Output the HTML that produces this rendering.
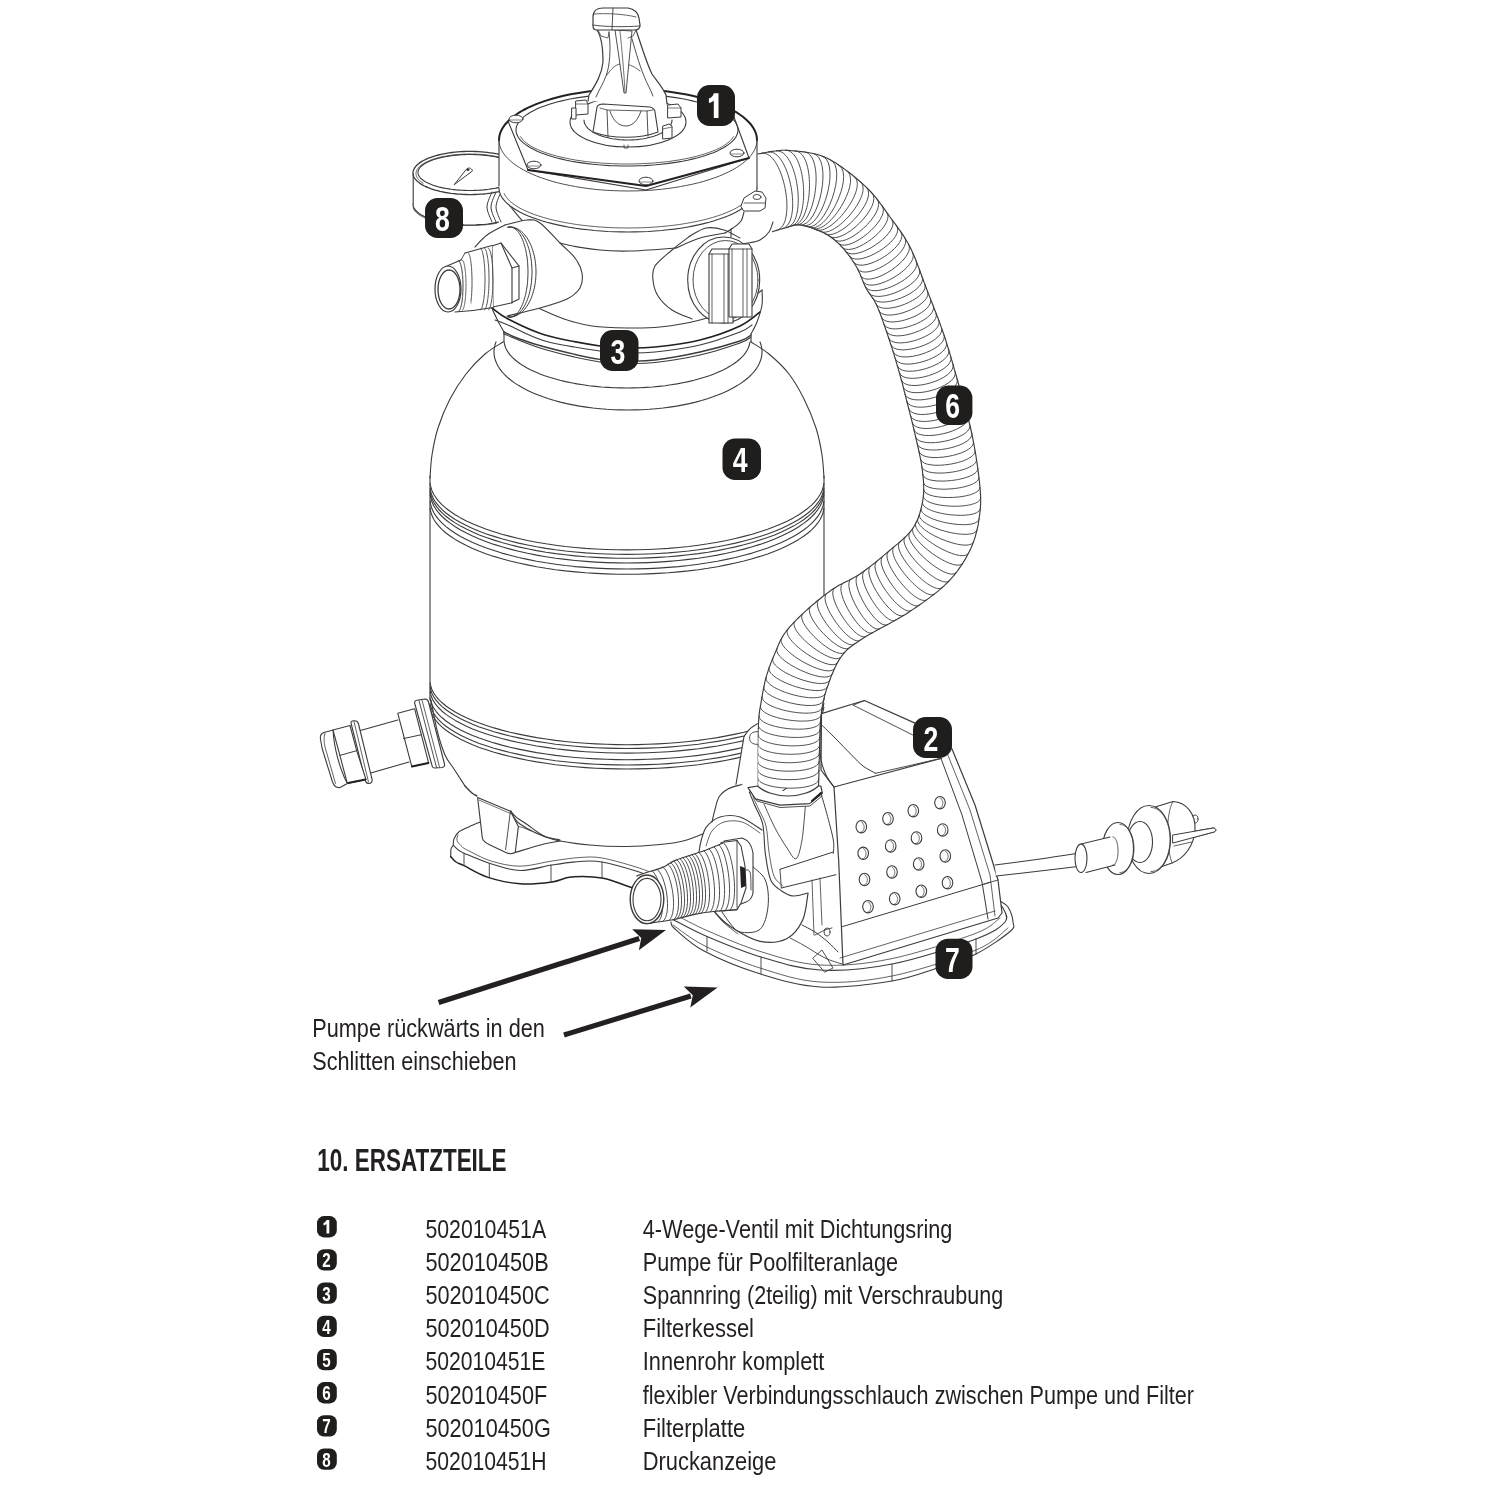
<!DOCTYPE html>
<html><head><meta charset="utf-8"><style>
html,body{margin:0;padding:0;background:#fff;}
svg{display:block;}
text{font-family:"Liberation Sans",sans-serif;fill:#231f20;}
.t{opacity:0.995;}
</style></head><body>
<svg width="1500" height="1500" viewBox="0 0 1500 1500" stroke-linejoin="round" stroke-linecap="round">
<rect width="1500" height="1500" fill="#fff"/>
<g class="t">
<path d="M451.0,845.0 L455.0,835.0 L462.0,829.0 L479.0,823.0 L700.0,840.0 L700.0,900.0 L660.0,897.0 L630.0,887.0 L602.0,878.0 L571.0,877.0 L552.0,882.0 L520.0,883.8 L488.0,877.4 L464.0,865.7 L456.0,862.0 L450.7,856.6 Z" fill="#fff" stroke="none"/>
<path d="M480.5,821.9 C478.6,822.7 472.9,825.0 469.3,826.7 C465.7,828.4 461.3,830.0 458.7,832.0 C456.1,834.0 454.8,836.8 453.9,839.0 C453.0,841.2 453.4,844.3 453.3,845.4" fill="none" stroke="#3d3a38" stroke-width="1.1" />
<path d="M453.3,845.4 C452.9,846.0 451.4,847.1 451.0,849.0 C450.6,850.9 450.8,855.3 450.7,856.6" fill="none" stroke="#3d3a38" stroke-width="1.1" />
<path d="M453.9,845.9 C454.7,846.6 456.9,849.0 458.7,850.2 C460.5,851.5 459.3,851.2 464.5,853.4 C469.7,855.6 480.9,860.6 490.1,863.5 C499.4,866.4 509.7,870.2 520.0,870.5 C530.3,870.8 542.0,866.5 552.0,865.0 C562.0,863.5 571.7,862.0 580.0,861.5 C588.3,861.0 592.7,860.4 602.0,862.0 C611.3,863.6 626.3,868.0 636.0,871.0 C645.7,874.0 656.0,878.5 660.0,880.0" fill="none" stroke="#3d3a38" stroke-width="1.1" />
<path d="M450.7,856.6 C451.6,857.5 453.8,860.5 456.0,862.0 C458.2,863.5 458.7,863.1 464.0,865.7 C469.3,868.3 478.7,874.4 488.0,877.4 C497.3,880.4 509.3,883.0 520.0,883.8 C530.7,884.6 543.5,883.1 552.0,882.0 C560.5,880.9 562.7,877.7 571.0,877.0 C579.3,876.3 592.2,876.3 602.0,878.0 C611.8,879.7 620.3,883.8 630.0,887.0 C639.7,890.2 655.0,895.3 660.0,897.0" fill="none" stroke="#231f20" stroke-width="1.5" />
<path d="M458.0,834.7 C457.8,835.7 456.3,838.6 457.0,840.6 C457.7,842.6 460.8,845.5 462.4,847.0 C464.0,848.5 462.0,847.4 466.7,849.7 C471.4,852.0 481.8,858.1 490.7,860.9 C499.6,863.6 509.8,866.2 520.0,866.2 C530.2,866.2 542.0,862.5 552.0,861.0 C562.0,859.5 571.7,858.0 580.0,857.5 C588.3,857.0 592.7,856.4 602.0,858.0 C611.3,859.6 626.3,864.0 636.0,867.0 C645.7,870.0 656.0,874.5 660.0,876.0" fill="none" stroke="#3d3a38" stroke-width="0.8" />
<path d="M464,853.4 L464,865.5" fill="none" stroke="#3d3a38" stroke-width="0.9" />
<path d="M489.3,863.5 L489.3,877" fill="none" stroke="#3d3a38" stroke-width="0.9" />
<path d="M551,865 L551,882" fill="none" stroke="#3d3a38" stroke-width="0.9" />
<path d="M602,862 L602,878" fill="none" stroke="#3d3a38" stroke-width="0.9" />
<path d="M671.0,922.0 C671.7,923.2 669.5,924.2 675.0,929.0 C680.5,933.8 690.0,943.6 704.0,951.0 C718.0,958.4 739.7,967.5 759.0,973.5 C778.3,979.5 797.8,985.8 820.0,987.0 C842.2,988.2 872.7,984.1 892.0,981.0 C911.3,977.9 922.0,973.0 936.0,968.5 C950.0,964.0 963.7,960.2 976.0,954.0 C988.3,947.8 1003.8,936.8 1010.0,931.5 C1016.2,926.2 1013.3,926.1 1013.0,922.0 C1012.7,917.9 1010.2,910.5 1008.0,907.0 C1005.8,903.5 1001.3,902.0 1000.0,901.0 L900,880 L700,880 Z" fill="#fff" stroke="none"/>
<path d="M672.0,919.0 C677.8,921.9 692.2,930.2 707.0,936.5 C721.8,942.8 742.2,951.4 761.0,957.0 C779.8,962.6 798.2,968.8 820.0,970.0 C841.8,971.2 866.0,969.2 892.0,964.0 C918.0,958.8 957.2,946.0 976.0,939.0 C994.8,932.0 1000.5,927.2 1005.0,922.0 C1009.5,916.8 1004.2,911.2 1003.0,908.0 C1001.8,904.8 998.8,903.8 998.0,903.0" fill="none" stroke="#3d3a38" stroke-width="1.1" />
<path d="M671.0,922.0 C671.7,923.2 669.5,924.2 675.0,929.0 C680.5,933.8 690.0,943.6 704.0,951.0 C718.0,958.4 739.7,967.5 759.0,973.5 C778.3,979.5 797.8,985.8 820.0,987.0 C842.2,988.2 872.7,984.1 892.0,981.0 C911.3,977.9 922.0,973.0 936.0,968.5 C950.0,964.0 963.7,960.2 976.0,954.0 C988.3,947.8 1003.8,936.8 1010.0,931.5 C1016.2,926.2 1013.3,926.1 1013.0,922.0 C1012.7,917.9 1010.2,910.5 1008.0,907.0 C1005.8,903.5 1001.3,902.0 1000.0,901.0" fill="none" stroke="#3d3a38" stroke-width="1.1" />
<path d="M673.0,925.0 C678.3,928.5 690.5,938.8 705.0,946.0 C719.5,953.2 740.8,962.0 760.0,968.0 C779.2,974.0 798.0,980.7 820.0,982.0 C842.0,983.3 866.0,981.3 892.0,976.0 C918.0,970.7 956.7,958.0 976.0,950.0 C995.3,942.0 1002.7,931.7 1008.0,928.0" fill="none" stroke="#3d3a38" stroke-width="0.8" />
<path d="M676.0,915.0 C681.3,917.7 693.7,924.8 708.0,931.0 C722.3,937.2 743.3,946.3 762.0,952.0 C780.7,957.7 798.7,963.8 820.0,965.0 C841.3,966.2 864.3,964.2 890.0,959.0 C915.7,953.8 955.7,940.8 974.0,934.0 C992.3,927.2 995.7,920.7 1000.0,918.0" fill="none" stroke="#3d3a38" stroke-width="0.8" />
<path d="M707,936.5 L707,951" fill="none" stroke="#3d3a38" stroke-width="0.9" />
<path d="M761,957 L761,973.5" fill="none" stroke="#3d3a38" stroke-width="0.9" />
<path d="M892,964 L892,981" fill="none" stroke="#3d3a38" stroke-width="0.9" />
<path d="M976,939 L976,954" fill="none" stroke="#3d3a38" stroke-width="0.9" />
<path d="M503.0,342.0 C500.0,344.0 491.2,348.7 485.0,354.0 C478.8,359.3 471.8,366.5 466.0,374.0 C460.2,381.5 454.7,390.0 450.0,399.0 C445.3,408.0 441.0,418.7 438.0,428.0 C435.0,437.3 433.3,446.7 432.0,455.0 C430.7,463.3 430.3,474.2 430.0,478.0 L430,700  L431.0,700.0 C432.0,705.0 434.7,720.8 437.0,730.0 C439.3,739.2 442.2,748.5 445.0,755.0 C447.8,761.5 450.7,763.8 454.0,769.0 C457.3,774.2 463.2,783.2 465.0,786.0  L465.0,786.0 C467.0,787.7 469.3,791.8 477.0,796.0 C484.7,800.2 503.8,806.3 511.0,811.0 C518.2,815.7 513.2,819.3 520.0,824.0 C526.8,828.7 540.3,835.5 552.0,839.0 C563.7,842.5 577.5,843.8 590.0,845.0 C602.5,846.2 615.3,846.6 627.0,846.5 C638.7,846.4 650.7,845.4 660.0,844.5 C669.3,843.6 675.5,842.9 683.0,841.0 C690.5,839.1 697.2,836.2 705.0,833.0 C712.8,829.8 720.8,826.2 730.0,822.0 C739.2,817.8 750.2,814.0 760.0,808.0 C769.8,802.0 784.2,789.7 789.0,786.0  L789.0,786.0 C790.8,783.2 796.7,774.2 800.0,769.0 C803.3,763.8 806.2,761.5 809.0,755.0 C811.8,748.5 814.7,739.2 817.0,730.0 C819.3,720.8 822.0,705.0 823.0,700.0 L824,478  L824.0,478.0 C823.7,474.2 823.3,463.3 822.0,455.0 C820.7,446.7 819.0,437.3 816.0,428.0 C813.0,418.7 808.5,408.0 804.0,399.0 C799.5,390.0 794.8,381.5 789.0,374.0 C783.2,366.5 775.3,359.3 769.0,354.0 C762.7,348.7 754.0,344.0 751.0,342.0 Z" fill="#fff" stroke="none"/>
<path d="M503.0,342.0 C500.0,344.0 491.2,348.7 485.0,354.0 C478.8,359.3 471.8,366.5 466.0,374.0 C460.2,381.5 454.7,390.0 450.0,399.0 C445.3,408.0 441.0,418.7 438.0,428.0 C435.0,437.3 433.3,446.7 432.0,455.0 C430.7,463.3 430.3,474.2 430.0,478.0" fill="none" stroke="#3d3a38" stroke-width="1.1" />
<path d="M751.0,342.0 C754.0,344.0 762.7,348.7 769.0,354.0 C775.3,359.3 783.2,366.5 789.0,374.0 C794.8,381.5 799.5,390.0 804.0,399.0 C808.5,408.0 813.0,418.7 816.0,428.0 C819.0,437.3 820.7,446.7 822.0,455.0 C823.3,463.3 823.7,474.2 824.0,478.0" fill="none" stroke="#3d3a38" stroke-width="1.1" />
<path d="M430,476 L430,700" fill="none" stroke="#3d3a38" stroke-width="1.1" />
<path d="M824,476 L824,700" fill="none" stroke="#3d3a38" stroke-width="1.1" />
<path d="M504,330 L504,341" fill="none" stroke="#3d3a38" stroke-width="1.1" />
<path d="M750,330 L750,341" fill="none" stroke="#3d3a38" stroke-width="1.1" />
<path d="M749.8,342.5 L749.3,345.0 L748.5,347.5 L747.3,350.0 L745.8,352.4 L744.0,354.8 L741.8,357.2 L739.4,359.5 L736.6,361.8 L733.5,364.0 L730.2,366.1 L726.5,368.2 L722.6,370.2 L718.4,372.1 L714.0,373.9 L709.3,375.7 L704.4,377.3 L699.3,378.8 L694.0,380.3 L688.5,381.6 L682.8,382.8 L677.0,383.9 L671.1,384.8 L665.0,385.7 L658.8,386.4 L652.6,387.0 L646.2,387.4 L639.9,387.7 L633.4,387.9 L627.0,388.0 L620.6,387.9 L614.1,387.7 L607.8,387.4 L601.4,387.0 L595.2,386.4 L589.0,385.7 L582.9,384.8 L577.0,383.9 L571.2,382.8 L565.5,381.6 L560.0,380.3 L554.7,378.8 L549.6,377.3 L544.7,375.7 L540.0,373.9 L535.6,372.1 L531.4,370.2 L527.5,368.2 L523.8,366.1 L520.5,364.0 L517.4,361.8 L514.6,359.5 L512.2,357.2 L510.0,354.8 L508.2,352.4 L506.7,350.0 L505.5,347.5 L504.7,345.0 L504.2,342.5" fill="none" stroke="#3d3a38" stroke-width="1.1" />
<path d="M760.0,341.9 L761.0,345.0 L761.7,348.0 L762.0,351.1 L761.9,354.1 L761.5,357.2 L760.6,360.3 L759.4,363.3 L757.9,366.3 L756.0,369.2 L753.7,372.1 L751.0,375.0 L748.1,377.8 L744.7,380.5 L741.1,383.1 L737.2,385.6 L732.9,388.1 L728.3,390.4 L723.5,392.7 L718.4,394.8 L713.0,396.8 L707.4,398.7 L701.6,400.5 L695.6,402.1 L689.4,403.6 L683.0,404.9 L676.5,406.1 L669.8,407.1 L663.0,408.0 L656.1,408.7 L649.2,409.3 L642.1,409.7 L635.1,409.9 L628.0,410.0 L620.9,409.9 L613.9,409.7 L606.8,409.3 L599.9,408.7 L593.0,408.0 L586.2,407.1 L579.5,406.1 L573.0,404.9 L566.6,403.6 L560.4,402.1 L554.4,400.5 L548.6,398.7 L543.0,396.8 L537.6,394.8 L532.5,392.7 L527.7,390.4 L523.1,388.1 L518.8,385.6 L514.9,383.1 L511.3,380.5 L507.9,377.8 L505.0,375.0 L502.3,372.1 L500.0,369.2 L498.1,366.3 L496.6,363.3 L495.4,360.3 L494.5,357.2 L494.1,354.1 L494.0,351.1 L494.3,348.0 L495.0,345.0 L496.0,341.9" fill="none" stroke="#3d3a38" stroke-width="1.1" />
<path d="M823.9,483.4 L823.2,487.0 L822.0,490.7 L820.3,494.3 L818.0,497.8 L815.2,501.3 L811.9,504.8 L808.0,508.2 L803.6,511.5 L798.8,514.7 L793.4,517.9 L787.6,520.9 L781.4,523.8 L774.7,526.6 L767.6,529.3 L760.0,531.8 L752.2,534.2 L743.9,536.4 L735.4,538.5 L726.5,540.5 L717.4,542.2 L708.0,543.8 L698.4,545.2 L688.6,546.5 L678.6,547.5 L668.4,548.4 L658.2,549.0 L647.8,549.5 L637.4,549.8 L627.0,549.9 L616.6,549.8 L606.2,549.5 L595.8,549.0 L585.6,548.4 L575.4,547.5 L565.4,546.5 L555.6,545.2 L546.0,543.8 L536.6,542.2 L527.5,540.5 L518.6,538.5 L510.1,536.4 L501.8,534.2 L494.0,531.8 L486.4,529.3 L479.3,526.6 L472.6,523.8 L466.4,520.9 L460.6,517.9 L455.2,514.7 L450.4,511.5 L446.0,508.2 L442.1,504.8 L438.8,501.3 L436.0,497.8 L433.7,494.3 L432.0,490.7 L430.8,487.0 L430.1,483.4" fill="none" stroke="#3d3a38" stroke-width="1.1" />
<path d="M823.9,488.4 L823.2,492.0 L822.0,495.6 L820.3,499.2 L818.0,502.7 L815.2,506.2 L811.9,509.6 L808.0,513.0 L803.6,516.3 L798.8,519.5 L793.4,522.6 L787.6,525.6 L781.4,528.5 L774.7,531.3 L767.6,533.9 L760.0,536.4 L752.2,538.8 L743.9,541.0 L735.4,543.1 L726.5,545.0 L717.4,546.8 L708.0,548.4 L698.4,549.8 L688.6,551.0 L678.6,552.0 L668.4,552.9 L658.2,553.5 L647.8,554.0 L637.4,554.3 L627.0,554.4 L616.6,554.3 L606.2,554.0 L595.8,553.5 L585.6,552.9 L575.4,552.0 L565.4,551.0 L555.6,549.8 L546.0,548.4 L536.6,546.8 L527.5,545.0 L518.6,543.1 L510.1,541.0 L501.8,538.8 L494.0,536.4 L486.4,533.9 L479.3,531.3 L472.6,528.5 L466.4,525.6 L460.6,522.6 L455.2,519.5 L450.4,516.3 L446.0,513.0 L442.1,509.6 L438.8,506.2 L436.0,502.7 L433.7,499.2 L432.0,495.6 L430.8,492.0 L430.1,488.4" fill="none" stroke="#3d3a38" stroke-width="1.1" />
<path d="M823.9,491.4 L823.2,495.1 L822.0,498.7 L820.3,502.3 L818.0,505.9 L815.2,509.5 L811.9,512.9 L808.0,516.3 L803.6,519.7 L798.8,522.9 L793.4,526.1 L787.6,529.1 L781.4,532.1 L774.7,534.9 L767.6,537.6 L760.0,540.1 L752.2,542.5 L743.9,544.8 L735.4,546.9 L726.5,548.8 L717.4,550.6 L708.0,552.2 L698.4,553.6 L688.6,554.8 L678.6,555.9 L668.4,556.8 L658.2,557.4 L647.8,557.9 L637.4,558.2 L627.0,558.3 L616.6,558.2 L606.2,557.9 L595.8,557.4 L585.6,556.8 L575.4,555.9 L565.4,554.8 L555.6,553.6 L546.0,552.2 L536.6,550.6 L527.5,548.8 L518.6,546.9 L510.1,544.8 L501.8,542.5 L494.0,540.1 L486.4,537.6 L479.3,534.9 L472.6,532.1 L466.4,529.1 L460.6,526.1 L455.2,522.9 L450.4,519.7 L446.0,516.3 L442.1,512.9 L438.8,509.5 L436.0,505.9 L433.7,502.3 L432.0,498.7 L430.8,495.1 L430.1,491.4" fill="none" stroke="#3d3a38" stroke-width="1.1" />
<path d="M823.9,494.5 L823.2,498.2 L822.0,502.0 L820.3,505.7 L818.0,509.3 L815.2,513.0 L811.9,516.5 L808.0,520.0 L803.6,523.4 L798.8,526.8 L793.4,530.0 L787.6,533.1 L781.4,536.1 L774.7,539.0 L767.6,541.7 L760.0,544.4 L752.2,546.8 L743.9,549.1 L735.4,551.3 L726.5,553.3 L717.4,555.1 L708.0,556.7 L698.4,558.2 L688.6,559.4 L678.6,560.5 L668.4,561.4 L658.2,562.1 L647.8,562.6 L637.4,562.9 L627.0,563.0 L616.6,562.9 L606.2,562.6 L595.8,562.1 L585.6,561.4 L575.4,560.5 L565.4,559.4 L555.6,558.2 L546.0,556.7 L536.6,555.1 L527.5,553.3 L518.6,551.3 L510.1,549.1 L501.8,546.8 L494.0,544.4 L486.4,541.7 L479.3,539.0 L472.6,536.1 L466.4,533.1 L460.6,530.0 L455.2,526.8 L450.4,523.4 L446.0,520.0 L442.1,516.5 L438.8,513.0 L436.0,509.3 L433.7,505.7 L432.0,502.0 L430.8,498.2 L430.1,494.5" fill="none" stroke="#3d3a38" stroke-width="1.1" />
<path d="M823.9,501.4 L823.2,505.1 L822.0,508.8 L820.3,512.5 L818.0,516.1 L815.2,519.7 L811.9,523.2 L808.0,526.6 L803.6,530.0 L798.8,533.3 L793.4,536.5 L787.6,539.5 L781.4,542.5 L774.7,545.3 L767.6,548.0 L760.0,550.6 L752.2,553.1 L743.9,555.3 L735.4,557.5 L726.5,559.4 L717.4,561.2 L708.0,562.8 L698.4,564.2 L688.6,565.5 L678.6,566.6 L668.4,567.4 L658.2,568.1 L647.8,568.6 L637.4,568.9 L627.0,569.0 L616.6,568.9 L606.2,568.6 L595.8,568.1 L585.6,567.4 L575.4,566.6 L565.4,565.5 L555.6,564.2 L546.0,562.8 L536.6,561.2 L527.5,559.4 L518.6,557.5 L510.1,555.3 L501.8,553.1 L494.0,550.6 L486.4,548.0 L479.3,545.3 L472.6,542.5 L466.4,539.5 L460.6,536.5 L455.2,533.3 L450.4,530.0 L446.0,526.6 L442.1,523.2 L438.8,519.7 L436.0,516.1 L433.7,512.5 L432.0,508.8 L430.8,505.1 L430.1,501.4" fill="none" stroke="#3d3a38" stroke-width="1.1" />
<path d="M823.9,508.4 L823.2,512.0 L822.0,515.6 L820.3,519.2 L818.0,522.7 L815.2,526.2 L811.9,529.6 L808.0,533.0 L803.6,536.2 L798.8,539.4 L793.4,542.5 L787.6,545.5 L781.4,548.4 L774.7,551.2 L767.6,553.9 L760.0,556.4 L752.2,558.7 L743.9,561.0 L735.4,563.0 L726.5,564.9 L717.4,566.7 L708.0,568.3 L698.4,569.7 L688.6,570.9 L678.6,571.9 L668.4,572.8 L658.2,573.4 L647.8,573.9 L637.4,574.2 L627.0,574.3 L616.6,574.2 L606.2,573.9 L595.8,573.4 L585.6,572.8 L575.4,571.9 L565.4,570.9 L555.6,569.7 L546.0,568.3 L536.6,566.7 L527.5,564.9 L518.6,563.0 L510.1,561.0 L501.8,558.7 L494.0,556.4 L486.4,553.9 L479.3,551.2 L472.6,548.4 L466.4,545.5 L460.6,542.5 L455.2,539.4 L450.4,536.2 L446.0,533.0 L442.1,529.6 L438.8,526.2 L436.0,522.7 L433.7,519.2 L432.0,515.6 L430.8,512.0 L430.1,508.4" fill="none" stroke="#3d3a38" stroke-width="1.1" />
<path d="M823.9,682.9 L823.2,686.3 L822.0,689.7 L820.3,693.0 L818.0,696.3 L815.2,699.6 L811.9,702.8 L808.0,706.0 L803.6,709.0 L798.8,712.0 L793.4,714.9 L787.6,717.8 L781.4,720.5 L774.7,723.1 L767.6,725.5 L760.0,727.9 L752.2,730.1 L743.9,732.2 L735.4,734.1 L726.5,735.9 L717.4,737.6 L708.0,739.0 L698.4,740.4 L688.6,741.5 L678.6,742.5 L668.4,743.3 L658.2,743.9 L647.8,744.3 L637.4,744.6 L627.0,744.7 L616.6,744.6 L606.2,744.3 L595.8,743.9 L585.6,743.3 L575.4,742.5 L565.4,741.5 L555.6,740.4 L546.0,739.0 L536.6,737.6 L527.5,735.9 L518.6,734.1 L510.1,732.2 L501.8,730.1 L494.0,727.9 L486.4,725.5 L479.3,723.1 L472.6,720.5 L466.4,717.8 L460.6,714.9 L455.2,712.0 L450.4,709.0 L446.0,706.0 L442.1,702.8 L438.8,699.6 L436.0,696.3 L433.7,693.0 L432.0,689.7 L430.8,686.3 L430.1,682.9" fill="none" stroke="#3d3a38" stroke-width="1.1" />
<path d="M823.9,686.7 L823.2,690.1 L822.0,693.5 L820.3,696.8 L818.0,700.1 L815.2,703.4 L811.9,706.6 L808.0,709.8 L803.6,712.8 L798.8,715.8 L793.4,718.7 L787.6,721.6 L781.4,724.3 L774.7,726.9 L767.6,729.3 L760.0,731.7 L752.2,733.9 L743.9,736.0 L735.4,737.9 L726.5,739.7 L717.4,741.4 L708.0,742.8 L698.4,744.2 L688.6,745.3 L678.6,746.3 L668.4,747.1 L658.2,747.7 L647.8,748.1 L637.4,748.4 L627.0,748.5 L616.6,748.4 L606.2,748.1 L595.8,747.7 L585.6,747.1 L575.4,746.3 L565.4,745.3 L555.6,744.2 L546.0,742.8 L536.6,741.4 L527.5,739.7 L518.6,737.9 L510.1,736.0 L501.8,733.9 L494.0,731.7 L486.4,729.3 L479.3,726.9 L472.6,724.3 L466.4,721.6 L460.6,718.7 L455.2,715.8 L450.4,712.8 L446.0,709.8 L442.1,706.6 L438.8,703.4 L436.0,700.1 L433.7,696.8 L432.0,693.5 L430.8,690.1 L430.1,686.7" fill="none" stroke="#3d3a38" stroke-width="1.1" />
<path d="M823.9,691.3 L823.2,694.7 L822.0,698.1 L820.3,701.4 L818.0,704.7 L815.2,708.0 L811.9,711.2 L808.0,714.4 L803.6,717.4 L798.8,720.4 L793.4,723.3 L787.6,726.2 L781.4,728.9 L774.7,731.5 L767.6,733.9 L760.0,736.3 L752.2,738.5 L743.9,740.6 L735.4,742.5 L726.5,744.3 L717.4,746.0 L708.0,747.4 L698.4,748.8 L688.6,749.9 L678.6,750.9 L668.4,751.7 L658.2,752.3 L647.8,752.7 L637.4,753.0 L627.0,753.1 L616.6,753.0 L606.2,752.7 L595.8,752.3 L585.6,751.7 L575.4,750.9 L565.4,749.9 L555.6,748.8 L546.0,747.4 L536.6,746.0 L527.5,744.3 L518.6,742.5 L510.1,740.6 L501.8,738.5 L494.0,736.3 L486.4,733.9 L479.3,731.5 L472.6,728.9 L466.4,726.2 L460.6,723.3 L455.2,720.4 L450.4,717.4 L446.0,714.4 L442.1,711.2 L438.8,708.0 L436.0,704.7 L433.7,701.4 L432.0,698.1 L430.8,694.7 L430.1,691.3" fill="none" stroke="#3d3a38" stroke-width="1.1" />
<path d="M823.9,697.9 L823.2,701.3 L822.0,704.7 L820.3,708.0 L818.0,711.3 L815.2,714.6 L811.9,717.8 L808.0,721.0 L803.6,724.0 L798.8,727.0 L793.4,729.9 L787.6,732.8 L781.4,735.5 L774.7,738.1 L767.6,740.5 L760.0,742.9 L752.2,745.1 L743.9,747.2 L735.4,749.1 L726.5,750.9 L717.4,752.6 L708.0,754.0 L698.4,755.4 L688.6,756.5 L678.6,757.5 L668.4,758.3 L658.2,758.9 L647.8,759.3 L637.4,759.6 L627.0,759.7 L616.6,759.6 L606.2,759.3 L595.8,758.9 L585.6,758.3 L575.4,757.5 L565.4,756.5 L555.6,755.4 L546.0,754.0 L536.6,752.6 L527.5,750.9 L518.6,749.1 L510.1,747.2 L501.8,745.1 L494.0,742.9 L486.4,740.5 L479.3,738.1 L472.6,735.5 L466.4,732.8 L460.6,729.9 L455.2,727.0 L450.4,724.0 L446.0,721.0 L442.1,717.8 L438.8,714.6 L436.0,711.3 L433.7,708.0 L432.0,704.7 L430.8,701.3 L430.1,697.9" fill="none" stroke="#3d3a38" stroke-width="1.1" />
<path d="M823.9,703.2 L823.2,706.6 L822.0,710.0 L820.3,713.3 L818.0,716.6 L815.2,719.9 L811.9,723.1 L808.0,726.3 L803.6,729.3 L798.8,732.3 L793.4,735.2 L787.6,738.1 L781.4,740.8 L774.7,743.4 L767.6,745.8 L760.0,748.2 L752.2,750.4 L743.9,752.5 L735.4,754.4 L726.5,756.2 L717.4,757.9 L708.0,759.3 L698.4,760.7 L688.6,761.8 L678.6,762.8 L668.4,763.6 L658.2,764.2 L647.8,764.6 L637.4,764.9 L627.0,765.0 L616.6,764.9 L606.2,764.6 L595.8,764.2 L585.6,763.6 L575.4,762.8 L565.4,761.8 L555.6,760.7 L546.0,759.3 L536.6,757.9 L527.5,756.2 L518.6,754.4 L510.1,752.5 L501.8,750.4 L494.0,748.2 L486.4,745.8 L479.3,743.4 L472.6,740.8 L466.4,738.1 L460.6,735.2 L455.2,732.3 L450.4,729.3 L446.0,726.3 L442.1,723.1 L438.8,719.9 L436.0,716.6 L433.7,713.3 L432.0,710.0 L430.8,706.6 L430.1,703.2" fill="none" stroke="#3d3a38" stroke-width="1.1" />
<path d="M823.9,707.2 L823.2,710.6 L822.0,714.0 L820.3,717.3 L818.0,720.6 L815.2,723.9 L811.9,727.1 L808.0,730.3 L803.6,733.3 L798.8,736.3 L793.4,739.2 L787.6,742.1 L781.4,744.8 L774.7,747.4 L767.6,749.8 L760.0,752.2 L752.2,754.4 L743.9,756.5 L735.4,758.4 L726.5,760.2 L717.4,761.9 L708.0,763.3 L698.4,764.7 L688.6,765.8 L678.6,766.8 L668.4,767.6 L658.2,768.2 L647.8,768.6 L637.4,768.9 L627.0,769.0 L616.6,768.9 L606.2,768.6 L595.8,768.2 L585.6,767.6 L575.4,766.8 L565.4,765.8 L555.6,764.7 L546.0,763.3 L536.6,761.9 L527.5,760.2 L518.6,758.4 L510.1,756.5 L501.8,754.4 L494.0,752.2 L486.4,749.8 L479.3,747.4 L472.6,744.8 L466.4,742.1 L460.6,739.2 L455.2,736.3 L450.4,733.3 L446.0,730.3 L442.1,727.1 L438.8,723.9 L436.0,720.6 L433.7,717.3 L432.0,714.0 L430.8,710.6 L430.1,707.2" fill="none" stroke="#3d3a38" stroke-width="1.1" />
<path d="M431.0,700.0 C432.0,705.0 434.7,720.8 437.0,730.0 C439.3,739.2 442.2,748.5 445.0,755.0 C447.8,761.5 450.7,763.8 454.0,769.0 C457.3,774.2 463.2,783.2 465.0,786.0" fill="none" stroke="#3d3a38" stroke-width="1.1" />
<path d="M823.0,700.0 C822.0,705.0 819.3,720.8 817.0,730.0 C814.7,739.2 811.8,748.5 809.0,755.0 C806.2,761.5 803.3,763.8 800.0,769.0 C796.7,774.2 790.8,783.2 789.0,786.0" fill="none" stroke="#3d3a38" stroke-width="1.1" />
<path d="M511.0,811.0 C512.5,813.2 513.2,819.3 520.0,824.0 C526.8,828.7 540.3,835.5 552.0,839.0 C563.7,842.5 577.5,843.8 590.0,845.0 C602.5,846.2 615.3,846.6 627.0,846.5 C638.7,846.4 650.7,845.4 660.0,844.5 C669.3,843.6 675.5,842.9 683.0,841.0 C690.5,839.1 697.2,836.2 705.0,833.0 C712.8,829.8 720.8,826.2 730.0,822.0 C739.2,817.8 750.2,814.0 760.0,808.0 C769.8,802.0 784.2,789.7 789.0,786.0" fill="none" stroke="#3d3a38" stroke-width="1.1" />
<path d="M477.6,797.6 L482.4,838.4 C483.5,842 486,843 490,845 L506.4,852.8 C509,854 512,854 515.2,852.5 L518.4,826.4 L510.4,811.2 Z" fill="#fff" stroke="#3d3a38" stroke-width="1.1"/>
<path d="M510.4,811.2 L505.6,849.6" fill="none" stroke="#3d3a38" stroke-width="0.9" />
<path d="M479,800 L510.4,813.5" fill="none" stroke="#3d3a38" stroke-width="0.7" />
<path d="M510.4,811.2 C511.5,812.3 514.1,815.5 516.8,817.6 C519.5,819.7 521.9,820.9 526.4,824.0 C530.9,827.1 538.4,833.3 544.0,836.0 C549.6,838.7 557.3,839.3 560.0,840.0" fill="none" stroke="#3d3a38" stroke-width="1.1" />
<path d="M518.4,826.4 C519.3,826.7 521.9,827.2 524.0,828.0 C526.1,828.8 529.8,830.5 531.0,831.0" fill="none" stroke="#3d3a38" stroke-width="0.8" />
<path d="M515.0,852.5 C519.8,851.1 536.5,845.9 544.0,844.0 C551.5,842.1 557.3,841.5 560.0,841.0" fill="none" stroke="#3d3a38" stroke-width="1.1" />
<path d="M465.0,786.0 C466.2,787.2 470.0,791.3 472.0,793.0 C474.0,794.7 476.2,795.5 477.0,796.0" fill="none" stroke="#3d3a38" stroke-width="1.4" />
<path d="M821.5,713.6 L864.4,700.5 L916.7,723.9 L952.0,749.0 L975.0,805.0 L992.0,860.0 L998.0,880.0 L1002.0,913.0 L998.0,918.0 L843.0,965.0 L838.7,861.0 L834.0,787.0 L821.0,770.0 Z" fill="#fff" stroke="#3d3a38" stroke-width="1.2"/>
<path d="M834,787 L941,758.4" fill="none" stroke="#3d3a38" stroke-width="1.1" />
<path d="M941,758.4 L962,815 L982,882 L988,919" fill="none" stroke="#3d3a38" stroke-width="1.0" />
<path d="M947,753 L970,810 L990,875 L995,916" fill="none" stroke="#3d3a38" stroke-width="0.8" />
<path d="M984,884 L998,880" fill="none" stroke="#3d3a38" stroke-width="0.9" />
<path d="M821.5,724.8 C823.8,727.0 830.0,733.0 835.0,738.0 C840.0,743.0 846.6,750.0 851.3,754.7 C856.0,759.4 859.0,762.9 863.0,766.0 C867.0,769.1 873.5,772.1 875.6,773.3" fill="none" stroke="#3d3a38" stroke-width="1.0" />
<path d="M875.6,773.3 L941,758.4" fill="none" stroke="#3d3a38" stroke-width="0.9" />
<path d="M853.2,705.2 L914.8,736" fill="none" stroke="#3d3a38" stroke-width="0.9" />
<path d="M864.4,700.5 L853.2,705.2" fill="none" stroke="#3d3a38" stroke-width="0.9" />
<path d="M842.5,926.6 L990.5,882.2" fill="none" stroke="#3d3a38" stroke-width="1.0" />
<path d="M840,958 L995,911" fill="none" stroke="#3d3a38" stroke-width="0.8" />
<path d="M821.0,715.0 C820.8,719.2 820.0,732.5 820.0,740.0 C820.0,747.5 819.8,753.8 821.0,760.0 C822.2,766.2 824.8,772.5 827.0,777.0 C829.2,781.5 832.8,785.3 834.0,787.0" fill="none" stroke="#3d3a38" stroke-width="1.1" />
<ellipse cx="861.3" cy="826.7" rx="5.3" ry="6.2" fill="#fff" stroke="#3d3a38" stroke-width="1.1"/>
<path d="M861.5,822.0 L861.7,822.1 L861.9,822.2 L862.0,822.4 L862.2,822.5 L862.4,822.7 L862.6,822.8 L862.7,823.0 L862.9,823.2 L863.0,823.4 L863.2,823.6 L863.3,823.8 L863.4,824.1 L863.5,824.3 L863.6,824.6 L863.7,824.8 L863.8,825.1 L863.9,825.3 L864.0,825.6 L864.0,825.9 L864.0,826.2 L864.1,826.4 L864.1,826.7 L864.1,827.0 L864.1,827.3 L864.1,827.6 L864.1,827.8 L864.0,828.1 L864.0,828.4 L863.9,828.6 L863.8,828.9 L863.7,829.2 L863.7,829.4 L863.6,829.7 L863.4,829.9 L863.3,830.1 L863.2,830.4 L863.1,830.6 L862.9,830.8 L862.7,831.0 L862.6,831.2 L862.4,831.3 L862.2,831.5 L862.1,831.6 L861.9,831.8 L861.7,831.9 L861.5,832.0 L861.3,832.1 L861.1,832.1 L860.9,832.2 L860.7,832.2 L860.4,832.3" fill="none" stroke="#3d3a38" stroke-width="0.8" />
<ellipse cx="888" cy="818.7" rx="5.3" ry="6.2" fill="#fff" stroke="#3d3a38" stroke-width="1.1"/>
<path d="M888.2,814.0 L888.4,814.1 L888.6,814.2 L888.7,814.4 L888.9,814.5 L889.1,814.7 L889.3,814.8 L889.4,815.0 L889.6,815.2 L889.7,815.4 L889.9,815.6 L890.0,815.8 L890.1,816.1 L890.2,816.3 L890.3,816.6 L890.4,816.8 L890.5,817.1 L890.6,817.3 L890.7,817.6 L890.7,817.9 L890.7,818.2 L890.8,818.4 L890.8,818.7 L890.8,819.0 L890.8,819.3 L890.8,819.6 L890.8,819.8 L890.7,820.1 L890.7,820.4 L890.6,820.6 L890.5,820.9 L890.4,821.2 L890.4,821.4 L890.3,821.7 L890.1,821.9 L890.0,822.1 L889.9,822.4 L889.8,822.6 L889.6,822.8 L889.4,823.0 L889.3,823.2 L889.1,823.3 L888.9,823.5 L888.8,823.6 L888.6,823.8 L888.4,823.9 L888.2,824.0 L888.0,824.1 L887.8,824.1 L887.6,824.2 L887.4,824.2 L887.1,824.3" fill="none" stroke="#3d3a38" stroke-width="0.8" />
<ellipse cx="913.3" cy="810.7" rx="5.3" ry="6.2" fill="#fff" stroke="#3d3a38" stroke-width="1.1"/>
<path d="M913.5,806.0 L913.7,806.1 L913.9,806.2 L914.0,806.4 L914.2,806.5 L914.4,806.7 L914.6,806.8 L914.7,807.0 L914.9,807.2 L915.0,807.4 L915.2,807.6 L915.3,807.8 L915.4,808.1 L915.5,808.3 L915.6,808.6 L915.7,808.8 L915.8,809.1 L915.9,809.3 L916.0,809.6 L916.0,809.9 L916.0,810.2 L916.1,810.4 L916.1,810.7 L916.1,811.0 L916.1,811.3 L916.1,811.6 L916.1,811.8 L916.0,812.1 L916.0,812.4 L915.9,812.6 L915.8,812.9 L915.7,813.2 L915.7,813.4 L915.6,813.7 L915.4,813.9 L915.3,814.1 L915.2,814.4 L915.1,814.6 L914.9,814.8 L914.7,815.0 L914.6,815.2 L914.4,815.3 L914.2,815.5 L914.1,815.6 L913.9,815.8 L913.7,815.9 L913.5,816.0 L913.3,816.1 L913.1,816.1 L912.9,816.2 L912.7,816.2 L912.4,816.3" fill="none" stroke="#3d3a38" stroke-width="0.8" />
<ellipse cx="940" cy="802.7" rx="5.3" ry="6.2" fill="#fff" stroke="#3d3a38" stroke-width="1.1"/>
<path d="M940.2,798.0 L940.4,798.1 L940.6,798.2 L940.7,798.4 L940.9,798.5 L941.1,798.7 L941.3,798.8 L941.4,799.0 L941.6,799.2 L941.7,799.4 L941.9,799.6 L942.0,799.8 L942.1,800.1 L942.2,800.3 L942.3,800.6 L942.4,800.8 L942.5,801.1 L942.6,801.3 L942.7,801.6 L942.7,801.9 L942.7,802.2 L942.8,802.4 L942.8,802.7 L942.8,803.0 L942.8,803.3 L942.8,803.6 L942.8,803.8 L942.7,804.1 L942.7,804.4 L942.6,804.6 L942.5,804.9 L942.4,805.2 L942.4,805.4 L942.3,805.7 L942.1,805.9 L942.0,806.1 L941.9,806.4 L941.8,806.6 L941.6,806.8 L941.4,807.0 L941.3,807.2 L941.1,807.3 L940.9,807.5 L940.8,807.6 L940.6,807.8 L940.4,807.9 L940.2,808.0 L940.0,808.1 L939.8,808.1 L939.6,808.2 L939.4,808.2 L939.1,808.3" fill="none" stroke="#3d3a38" stroke-width="0.8" />
<ellipse cx="863.2" cy="853.3" rx="5.3" ry="6.2" fill="#fff" stroke="#3d3a38" stroke-width="1.1"/>
<path d="M863.4,848.6 L863.6,848.7 L863.8,848.8 L863.9,849.0 L864.1,849.1 L864.3,849.3 L864.5,849.4 L864.6,849.6 L864.8,849.8 L864.9,850.0 L865.1,850.2 L865.2,850.4 L865.3,850.7 L865.4,850.9 L865.5,851.2 L865.6,851.4 L865.7,851.7 L865.8,851.9 L865.9,852.2 L865.9,852.5 L865.9,852.8 L866.0,853.0 L866.0,853.3 L866.0,853.6 L866.0,853.9 L866.0,854.2 L866.0,854.4 L865.9,854.7 L865.9,855.0 L865.8,855.2 L865.7,855.5 L865.6,855.8 L865.6,856.0 L865.5,856.3 L865.3,856.5 L865.2,856.7 L865.1,857.0 L865.0,857.2 L864.8,857.4 L864.6,857.6 L864.5,857.8 L864.3,857.9 L864.1,858.1 L864.0,858.2 L863.8,858.4 L863.6,858.5 L863.4,858.6 L863.2,858.7 L863.0,858.7 L862.8,858.8 L862.6,858.8 L862.3,858.9" fill="none" stroke="#3d3a38" stroke-width="0.8" />
<ellipse cx="890.7" cy="845.9" rx="5.3" ry="6.2" fill="#fff" stroke="#3d3a38" stroke-width="1.1"/>
<path d="M890.9,841.2 L891.1,841.3 L891.3,841.4 L891.4,841.6 L891.6,841.7 L891.8,841.9 L892.0,842.0 L892.1,842.2 L892.3,842.4 L892.4,842.6 L892.6,842.8 L892.7,843.0 L892.8,843.3 L892.9,843.5 L893.0,843.8 L893.1,844.0 L893.2,844.3 L893.3,844.5 L893.4,844.8 L893.4,845.1 L893.4,845.4 L893.5,845.6 L893.5,845.9 L893.5,846.2 L893.5,846.5 L893.5,846.8 L893.5,847.0 L893.4,847.3 L893.4,847.6 L893.3,847.8 L893.2,848.1 L893.1,848.4 L893.1,848.6 L893.0,848.9 L892.8,849.1 L892.7,849.3 L892.6,849.6 L892.5,849.8 L892.3,850.0 L892.1,850.2 L892.0,850.4 L891.8,850.5 L891.6,850.7 L891.5,850.8 L891.3,851.0 L891.1,851.1 L890.9,851.2 L890.7,851.3 L890.5,851.3 L890.3,851.4 L890.1,851.4 L889.8,851.5" fill="none" stroke="#3d3a38" stroke-width="0.8" />
<ellipse cx="916.5" cy="837.9" rx="5.3" ry="6.2" fill="#fff" stroke="#3d3a38" stroke-width="1.1"/>
<path d="M916.7,833.2 L916.9,833.3 L917.1,833.4 L917.2,833.6 L917.4,833.7 L917.6,833.9 L917.8,834.0 L917.9,834.2 L918.1,834.4 L918.2,834.6 L918.4,834.8 L918.5,835.0 L918.6,835.3 L918.7,835.5 L918.8,835.8 L918.9,836.0 L919.0,836.3 L919.1,836.5 L919.2,836.8 L919.2,837.1 L919.2,837.4 L919.3,837.6 L919.3,837.9 L919.3,838.2 L919.3,838.5 L919.3,838.8 L919.3,839.0 L919.2,839.3 L919.2,839.6 L919.1,839.8 L919.0,840.1 L918.9,840.4 L918.9,840.6 L918.8,840.9 L918.6,841.1 L918.5,841.3 L918.4,841.6 L918.3,841.8 L918.1,842.0 L917.9,842.2 L917.8,842.4 L917.6,842.5 L917.4,842.7 L917.3,842.8 L917.1,843.0 L916.9,843.1 L916.7,843.2 L916.5,843.3 L916.3,843.3 L916.1,843.4 L915.9,843.4 L915.6,843.5" fill="none" stroke="#3d3a38" stroke-width="0.8" />
<ellipse cx="942.7" cy="829.9" rx="5.3" ry="6.2" fill="#fff" stroke="#3d3a38" stroke-width="1.1"/>
<path d="M942.9,825.2 L943.1,825.3 L943.3,825.4 L943.4,825.6 L943.6,825.7 L943.8,825.9 L944.0,826.0 L944.1,826.2 L944.3,826.4 L944.4,826.6 L944.6,826.8 L944.7,827.0 L944.8,827.3 L944.9,827.5 L945.0,827.8 L945.1,828.0 L945.2,828.3 L945.3,828.5 L945.4,828.8 L945.4,829.1 L945.4,829.4 L945.5,829.6 L945.5,829.9 L945.5,830.2 L945.5,830.5 L945.5,830.8 L945.5,831.0 L945.4,831.3 L945.4,831.6 L945.3,831.8 L945.2,832.1 L945.1,832.4 L945.1,832.6 L945.0,832.9 L944.8,833.1 L944.7,833.3 L944.6,833.6 L944.5,833.8 L944.3,834.0 L944.1,834.2 L944.0,834.4 L943.8,834.5 L943.6,834.7 L943.5,834.8 L943.3,835.0 L943.1,835.1 L942.9,835.2 L942.7,835.3 L942.5,835.3 L942.3,835.4 L942.1,835.4 L941.8,835.5" fill="none" stroke="#3d3a38" stroke-width="0.8" />
<ellipse cx="864.5" cy="879.5" rx="5.3" ry="6.2" fill="#fff" stroke="#3d3a38" stroke-width="1.1"/>
<path d="M864.7,874.8 L864.9,874.9 L865.1,875.0 L865.2,875.2 L865.4,875.3 L865.6,875.5 L865.8,875.6 L865.9,875.8 L866.1,876.0 L866.2,876.2 L866.4,876.4 L866.5,876.6 L866.6,876.9 L866.7,877.1 L866.8,877.4 L866.9,877.6 L867.0,877.9 L867.1,878.1 L867.2,878.4 L867.2,878.7 L867.2,879.0 L867.3,879.2 L867.3,879.5 L867.3,879.8 L867.3,880.1 L867.3,880.4 L867.3,880.6 L867.2,880.9 L867.2,881.2 L867.1,881.4 L867.0,881.7 L866.9,882.0 L866.9,882.2 L866.8,882.5 L866.6,882.7 L866.5,882.9 L866.4,883.2 L866.3,883.4 L866.1,883.6 L865.9,883.8 L865.8,884.0 L865.6,884.1 L865.4,884.3 L865.3,884.4 L865.1,884.6 L864.9,884.7 L864.7,884.8 L864.5,884.9 L864.3,884.9 L864.1,885.0 L863.9,885.0 L863.6,885.1" fill="none" stroke="#3d3a38" stroke-width="0.8" />
<ellipse cx="892" cy="872" rx="5.3" ry="6.2" fill="#fff" stroke="#3d3a38" stroke-width="1.1"/>
<path d="M892.2,867.3 L892.4,867.4 L892.6,867.5 L892.7,867.7 L892.9,867.8 L893.1,868.0 L893.3,868.1 L893.4,868.3 L893.6,868.5 L893.7,868.7 L893.9,868.9 L894.0,869.1 L894.1,869.4 L894.2,869.6 L894.3,869.9 L894.4,870.1 L894.5,870.4 L894.6,870.6 L894.7,870.9 L894.7,871.2 L894.7,871.5 L894.8,871.7 L894.8,872.0 L894.8,872.3 L894.8,872.6 L894.8,872.9 L894.8,873.1 L894.7,873.4 L894.7,873.7 L894.6,873.9 L894.5,874.2 L894.4,874.5 L894.4,874.7 L894.3,875.0 L894.1,875.2 L894.0,875.4 L893.9,875.7 L893.8,875.9 L893.6,876.1 L893.4,876.3 L893.3,876.5 L893.1,876.6 L892.9,876.8 L892.8,876.9 L892.6,877.1 L892.4,877.2 L892.2,877.3 L892.0,877.4 L891.8,877.4 L891.6,877.5 L891.4,877.5 L891.1,877.6" fill="none" stroke="#3d3a38" stroke-width="0.8" />
<ellipse cx="918.7" cy="864" rx="5.3" ry="6.2" fill="#fff" stroke="#3d3a38" stroke-width="1.1"/>
<path d="M918.9,859.3 L919.1,859.4 L919.3,859.5 L919.4,859.7 L919.6,859.8 L919.8,860.0 L920.0,860.1 L920.1,860.3 L920.3,860.5 L920.4,860.7 L920.6,860.9 L920.7,861.1 L920.8,861.4 L920.9,861.6 L921.0,861.9 L921.1,862.1 L921.2,862.4 L921.3,862.6 L921.4,862.9 L921.4,863.2 L921.4,863.5 L921.5,863.7 L921.5,864.0 L921.5,864.3 L921.5,864.6 L921.5,864.9 L921.5,865.1 L921.4,865.4 L921.4,865.7 L921.3,865.9 L921.2,866.2 L921.1,866.5 L921.1,866.7 L921.0,867.0 L920.8,867.2 L920.7,867.4 L920.6,867.7 L920.5,867.9 L920.3,868.1 L920.1,868.3 L920.0,868.5 L919.8,868.6 L919.6,868.8 L919.5,868.9 L919.3,869.1 L919.1,869.2 L918.9,869.3 L918.7,869.4 L918.5,869.4 L918.3,869.5 L918.1,869.5 L917.8,869.6" fill="none" stroke="#3d3a38" stroke-width="0.8" />
<ellipse cx="945.3" cy="856" rx="5.3" ry="6.2" fill="#fff" stroke="#3d3a38" stroke-width="1.1"/>
<path d="M945.5,851.3 L945.7,851.4 L945.9,851.5 L946.0,851.7 L946.2,851.8 L946.4,852.0 L946.6,852.1 L946.7,852.3 L946.9,852.5 L947.0,852.7 L947.2,852.9 L947.3,853.1 L947.4,853.4 L947.5,853.6 L947.6,853.9 L947.7,854.1 L947.8,854.4 L947.9,854.6 L948.0,854.9 L948.0,855.2 L948.0,855.5 L948.1,855.7 L948.1,856.0 L948.1,856.3 L948.1,856.6 L948.1,856.9 L948.1,857.1 L948.0,857.4 L948.0,857.7 L947.9,857.9 L947.8,858.2 L947.7,858.5 L947.7,858.7 L947.6,859.0 L947.4,859.2 L947.3,859.4 L947.2,859.7 L947.1,859.9 L946.9,860.1 L946.7,860.3 L946.6,860.5 L946.4,860.6 L946.2,860.8 L946.1,860.9 L945.9,861.1 L945.7,861.2 L945.5,861.3 L945.3,861.4 L945.1,861.4 L944.9,861.5 L944.7,861.5 L944.4,861.6" fill="none" stroke="#3d3a38" stroke-width="0.8" />
<ellipse cx="868" cy="906.7" rx="5.3" ry="6.2" fill="#fff" stroke="#3d3a38" stroke-width="1.1"/>
<path d="M868.2,902.0 L868.4,902.1 L868.6,902.2 L868.7,902.4 L868.9,902.5 L869.1,902.7 L869.3,902.8 L869.4,903.0 L869.6,903.2 L869.7,903.4 L869.9,903.6 L870.0,903.8 L870.1,904.1 L870.2,904.3 L870.3,904.6 L870.4,904.8 L870.5,905.1 L870.6,905.3 L870.7,905.6 L870.7,905.9 L870.7,906.2 L870.8,906.4 L870.8,906.7 L870.8,907.0 L870.8,907.3 L870.8,907.6 L870.8,907.8 L870.7,908.1 L870.7,908.4 L870.6,908.6 L870.5,908.9 L870.4,909.2 L870.4,909.4 L870.3,909.7 L870.1,909.9 L870.0,910.1 L869.9,910.4 L869.8,910.6 L869.6,910.8 L869.4,911.0 L869.3,911.2 L869.1,911.3 L868.9,911.5 L868.8,911.6 L868.6,911.8 L868.4,911.9 L868.2,912.0 L868.0,912.1 L867.8,912.1 L867.6,912.2 L867.4,912.2 L867.1,912.3" fill="none" stroke="#3d3a38" stroke-width="0.8" />
<ellipse cx="894.7" cy="898.7" rx="5.3" ry="6.2" fill="#fff" stroke="#3d3a38" stroke-width="1.1"/>
<path d="M894.9,894.0 L895.1,894.1 L895.3,894.2 L895.4,894.4 L895.6,894.5 L895.8,894.7 L896.0,894.8 L896.1,895.0 L896.3,895.2 L896.4,895.4 L896.6,895.6 L896.7,895.8 L896.8,896.1 L896.9,896.3 L897.0,896.6 L897.1,896.8 L897.2,897.1 L897.3,897.3 L897.4,897.6 L897.4,897.9 L897.4,898.2 L897.5,898.4 L897.5,898.7 L897.5,899.0 L897.5,899.3 L897.5,899.6 L897.5,899.8 L897.4,900.1 L897.4,900.4 L897.3,900.6 L897.2,900.9 L897.1,901.2 L897.1,901.4 L897.0,901.7 L896.8,901.9 L896.7,902.1 L896.6,902.4 L896.5,902.6 L896.3,902.8 L896.1,903.0 L896.0,903.2 L895.8,903.3 L895.6,903.5 L895.5,903.6 L895.3,903.8 L895.1,903.9 L894.9,904.0 L894.7,904.1 L894.5,904.1 L894.3,904.2 L894.1,904.2 L893.8,904.3" fill="none" stroke="#3d3a38" stroke-width="0.8" />
<ellipse cx="921.3" cy="891.2" rx="5.3" ry="6.2" fill="#fff" stroke="#3d3a38" stroke-width="1.1"/>
<path d="M921.5,886.5 L921.7,886.6 L921.9,886.7 L922.0,886.9 L922.2,887.0 L922.4,887.2 L922.6,887.3 L922.7,887.5 L922.9,887.7 L923.0,887.9 L923.2,888.1 L923.3,888.3 L923.4,888.6 L923.5,888.8 L923.6,889.1 L923.7,889.3 L923.8,889.6 L923.9,889.8 L924.0,890.1 L924.0,890.4 L924.0,890.7 L924.1,890.9 L924.1,891.2 L924.1,891.5 L924.1,891.8 L924.1,892.1 L924.1,892.3 L924.0,892.6 L924.0,892.9 L923.9,893.1 L923.8,893.4 L923.7,893.7 L923.7,893.9 L923.6,894.2 L923.4,894.4 L923.3,894.6 L923.2,894.9 L923.1,895.1 L922.9,895.3 L922.7,895.5 L922.6,895.7 L922.4,895.8 L922.2,896.0 L922.1,896.1 L921.9,896.3 L921.7,896.4 L921.5,896.5 L921.3,896.6 L921.1,896.6 L920.9,896.7 L920.7,896.7 L920.4,896.8" fill="none" stroke="#3d3a38" stroke-width="0.8" />
<ellipse cx="947.5" cy="882.7" rx="5.3" ry="6.2" fill="#fff" stroke="#3d3a38" stroke-width="1.1"/>
<path d="M947.7,878.0 L947.9,878.1 L948.1,878.2 L948.2,878.4 L948.4,878.5 L948.6,878.7 L948.8,878.8 L948.9,879.0 L949.1,879.2 L949.2,879.4 L949.4,879.6 L949.5,879.8 L949.6,880.1 L949.7,880.3 L949.8,880.6 L949.9,880.8 L950.0,881.1 L950.1,881.3 L950.2,881.6 L950.2,881.9 L950.2,882.2 L950.3,882.4 L950.3,882.7 L950.3,883.0 L950.3,883.3 L950.3,883.6 L950.3,883.8 L950.2,884.1 L950.2,884.4 L950.1,884.6 L950.0,884.9 L949.9,885.2 L949.9,885.4 L949.8,885.7 L949.6,885.9 L949.5,886.1 L949.4,886.4 L949.3,886.6 L949.1,886.8 L948.9,887.0 L948.8,887.2 L948.6,887.3 L948.4,887.5 L948.3,887.6 L948.1,887.8 L947.9,887.9 L947.7,888.0 L947.5,888.1 L947.3,888.1 L947.1,888.2 L946.9,888.2 L946.6,888.3" fill="none" stroke="#3d3a38" stroke-width="0.8" />
<path d="M758.0,154.0 L758.8,153.8 L759.9,153.6 L761.1,153.4 L762.5,153.1 L764.0,152.8 L765.6,152.5 L767.2,152.2 L768.9,151.9 L770.5,151.6 L772.1,151.4 L773.6,151.2 L775.0,151.0 L776.3,150.9 L777.5,150.7 L778.6,150.6 L779.6,150.5 L780.7,150.4 L781.8,150.3 L782.9,150.2 L784.0,150.2 L785.3,150.2 L786.7,150.3 L788.3,150.4 L790.0,150.5 L791.9,150.7 L794.1,150.9 L796.4,151.1 L798.8,151.3 L801.3,151.6 L803.9,151.9 L806.6,152.3 L809.2,152.7 L811.8,153.2 L814.3,153.7 L816.7,154.3 L819.0,155.0 L821.2,155.8 L823.3,156.6 L825.3,157.4 L827.3,158.3 L829.2,159.3 L831.1,160.3 L833.0,161.4 L835.0,162.6 L836.9,163.8 L838.9,165.2 L840.9,166.5 L843.0,168.0 L845.2,169.6 L847.4,171.2 L849.7,173.0 L852.0,174.8 L854.4,176.7 L856.8,178.7 L859.1,180.7 L861.4,182.7 L863.7,184.8 L865.9,186.9 L868.0,188.9 L870.0,191.0 L871.9,193.0 L873.7,195.1 L875.5,197.2 L877.2,199.3 L878.8,201.4 L880.4,203.6 L882.0,205.7 L883.6,207.9 L885.2,210.1 L886.7,212.4 L888.4,214.7 L890.0,217.0 L891.7,219.3 L893.4,221.6 L895.1,223.9 L896.8,226.2 L898.5,228.6 L900.2,230.9 L901.9,233.4 L903.6,235.9 L905.2,238.5 L906.8,241.2 L908.4,244.0 L910.0,247.0 L911.5,250.1 L913.0,253.4 L914.5,256.8 L915.9,260.3 L917.3,263.9 L918.7,267.6 L920.1,271.3 L921.4,275.0 L922.8,278.8 L924.2,282.6 L925.6,286.3 L927.0,290.0 L928.4,293.7 L929.9,297.4 L931.3,301.1 L932.8,304.8 L934.2,308.5 L935.7,312.2 L937.1,316.0 L938.6,319.8 L940.0,323.6 L941.3,327.4 L942.7,331.2 L944.0,335.0 L945.3,338.8 L946.5,342.7 L947.7,346.6 L948.9,350.5 L950.1,354.4 L951.2,358.3 L952.4,362.2 L953.5,366.2 L954.6,370.1 L955.8,374.1 L956.9,378.0 L958.0,382.0 L959.1,386.0 L960.3,389.9 L961.4,393.9 L962.6,397.9 L963.7,401.9 L964.9,405.9 L966.0,409.9 L967.1,414.0 L968.1,418.0 L969.1,422.0 L970.1,426.0 L971.0,430.0 L971.9,434.0 L972.7,438.2 L973.5,442.3 L974.3,446.5 L975.0,450.7 L975.8,454.9 L976.4,459.0 L977.0,463.0 L977.6,467.0 L978.1,470.8 L978.6,474.5 L979.0,478.0 L979.4,481.3 L979.7,484.5 L980.0,487.4 L980.2,490.3 L980.4,493.1 L980.6,495.8 L980.6,498.4 L980.7,501.0 L980.6,503.7 L980.5,506.4 L980.3,509.1 L980.0,512.0 L979.6,514.9 L979.2,517.9 L978.8,520.9 L978.3,523.9 L977.7,527.0 L977.0,530.0 L976.2,533.0 L975.4,536.1 L974.5,539.1 L973.4,542.1 L972.3,545.1 L971.0,548.0 L969.6,550.9 L968.2,553.8 L966.6,556.7 L965.0,559.6 L963.2,562.5 L961.4,565.4 L959.4,568.2 L957.4,571.0 L955.2,573.8 L952.9,576.6 L950.5,579.3 L948.0,582.0 L945.3,584.6 L942.5,587.3 L939.6,589.9 L936.5,592.4 L933.3,594.9 L930.0,597.4 L926.6,599.9 L923.2,602.4 L919.7,604.8 L916.1,607.2 L912.6,609.6 L909.0,612.0 L905.3,614.4 L901.3,616.8 L897.2,619.2 L893.0,621.6 L888.7,623.9 L884.4,626.2 L880.1,628.5 L876.0,630.8 L872.1,633.0 L868.4,635.1 L865.0,637.1 L862.0,639.0 L859.3,640.8 L856.9,642.4 L854.8,643.8 L852.8,645.2 L851.1,646.5 L849.4,647.8 L847.9,649.0 L846.5,650.4 L845.1,651.8 L843.8,653.4 L842.4,655.1 L841.0,657.0 L839.6,659.1 L838.2,661.4 L836.8,663.9 L835.5,666.5 L834.3,669.1 L833.1,671.9 L831.9,674.6 L830.8,677.4 L829.8,680.2 L828.8,682.9 L827.9,685.5 L827.0,688.0 L826.2,690.4 L825.5,692.8 L824.8,695.1 L824.2,697.3 L823.7,699.6 L823.2,701.8 L822.8,704.1 L822.4,706.3 L822.0,708.6 L821.6,711.0 L821.3,713.5 L821.0,716.0 L820.7,718.7 L820.5,721.5 L820.3,724.4 L820.1,727.4 L820.0,730.5 L819.9,733.5 L819.8,736.5 L819.8,739.5 L819.7,742.3 L819.6,745.1 L819.6,747.6 L819.5,750.0 L819.4,752.2 L819.4,754.2 L819.3,756.0 L819.3,757.8 L819.2,759.4 L819.2,761.0 L819.2,762.5 L819.1,764.0 L819.1,765.5 L819.1,766.9 L819.0,768.4 L819.0,770.0 L819.0,771.6 L818.9,773.3 L818.9,775.1 L818.8,776.8 L818.8,778.6 L818.7,780.2 L818.7,781.9 L818.6,783.4 L818.6,784.8 L818.6,786.1 L818.5,787.1 L818.5,788.0 L757.6,788.0 L757.6,786.1 L757.6,783.8 L757.6,781.0 L757.6,777.9 L757.5,774.5 L757.5,770.9 L757.5,767.2 L757.5,763.5 L757.5,759.8 L757.5,756.3 L757.6,753.0 L757.6,750.0 L757.6,747.2 L757.7,744.4 L757.8,741.6 L757.8,738.9 L757.9,736.2 L758.0,733.6 L758.1,731.1 L758.2,728.7 L758.3,726.3 L758.4,724.1 L758.6,722.0 L758.7,720.0 L758.8,718.2 L759.0,716.6 L759.1,715.3 L759.2,714.0 L759.3,712.9 L759.5,711.8 L759.6,710.7 L759.8,709.6 L760.0,708.4 L760.3,707.1 L760.5,705.7 L760.8,704.0 L761.1,702.1 L761.5,700.1 L761.8,698.0 L762.2,695.8 L762.6,693.5 L763.0,691.1 L763.5,688.7 L764.0,686.4 L764.5,684.0 L765.0,681.7 L765.5,679.4 L766.1,677.3 L766.7,675.2 L767.3,673.2 L768.0,671.2 L768.6,669.2 L769.3,667.2 L770.1,665.3 L770.8,663.3 L771.6,661.4 L772.3,659.5 L773.1,657.6 L773.9,655.8 L774.7,653.9 L775.5,652.0 L776.2,650.2 L777.0,648.4 L777.7,646.7 L778.4,644.9 L779.2,643.1 L780.0,641.4 L780.9,639.6 L781.8,637.9 L782.9,636.1 L784.0,634.3 L785.3,632.5 L786.7,630.7 L788.2,628.8 L789.8,626.9 L791.4,625.1 L793.2,623.2 L795.0,621.3 L796.9,619.4 L798.8,617.5 L800.7,615.6 L802.7,613.8 L804.7,611.9 L806.7,610.1 L808.7,608.3 L810.8,606.4 L813.0,604.5 L815.2,602.7 L817.4,600.8 L819.7,599.0 L821.9,597.2 L824.2,595.4 L826.5,593.6 L828.8,592.0 L831.1,590.3 L833.3,588.8 L835.5,587.4 L837.7,586.0 L839.9,584.8 L842.1,583.7 L844.3,582.5 L846.5,581.4 L848.7,580.4 L850.9,579.2 L853.2,578.0 L855.4,576.8 L857.7,575.4 L860.0,573.9 L862.4,572.3 L864.8,570.5 L867.2,568.7 L869.7,566.9 L872.2,564.9 L874.7,563.0 L877.2,561.0 L879.6,558.9 L882.0,556.9 L884.4,554.9 L886.8,552.9 L889.0,551.0 L891.2,549.1 L893.5,547.2 L895.7,545.4 L897.9,543.6 L900.1,541.7 L902.2,539.9 L904.2,538.0 L906.2,536.1 L908.1,534.2 L909.9,532.2 L911.5,530.1 L913.0,528.0 L914.4,525.8 L915.6,523.5 L916.7,521.2 L917.8,518.9 L918.7,516.4 L919.6,514.0 L920.3,511.5 L921.0,509.0 L921.6,506.5 L922.1,504.0 L922.6,501.5 L923.0,499.0 L923.3,496.5 L923.6,494.0 L923.7,491.6 L923.7,489.1 L923.7,486.6 L923.6,484.1 L923.5,481.5 L923.3,478.9 L923.0,476.3 L922.7,473.6 L922.4,470.8 L922.0,468.0 L921.6,465.0 L921.1,462.0 L920.5,458.8 L919.8,455.5 L919.1,452.2 L918.4,448.8 L917.6,445.5 L916.9,442.2 L916.1,439.0 L915.4,435.8 L914.7,432.8 L914.0,430.0 L913.4,427.3 L912.8,424.7 L912.2,422.3 L911.6,419.9 L911.0,417.6 L910.4,415.3 L909.9,413.1 L909.3,410.9 L908.7,408.7 L908.2,406.5 L907.6,404.3 L907.0,402.0 L906.4,399.7 L905.9,397.5 L905.3,395.3 L904.8,393.1 L904.2,391.0 L903.7,388.8 L903.1,386.6 L902.6,384.4 L902.0,382.1 L901.3,379.8 L900.7,377.5 L900.0,375.0 L899.3,372.5 L898.5,369.9 L897.8,367.2 L897.0,364.6 L896.2,361.8 L895.4,359.1 L894.5,356.3 L893.7,353.4 L892.8,350.6 L891.9,347.7 L890.9,344.9 L890.0,342.0 L889.0,339.0 L888.0,336.0 L886.9,332.8 L885.8,329.6 L884.7,326.3 L883.6,323.1 L882.4,319.9 L881.3,316.8 L880.2,313.8 L879.1,311.0 L878.0,308.4 L877.0,306.0 L876.0,303.9 L875.0,302.0 L874.1,300.3 L873.1,298.8 L872.2,297.4 L871.3,296.1 L870.4,294.9 L869.5,293.6 L868.6,292.4 L867.8,291.0 L866.9,289.6 L866.0,288.0 L865.1,286.3 L864.3,284.5 L863.5,282.7 L862.8,280.9 L862.0,279.0 L861.2,277.1 L860.5,275.2 L859.7,273.3 L858.8,271.5 L857.9,269.6 L857.0,267.8 L856.0,266.0 L854.9,264.2 L853.8,262.5 L852.6,260.7 L851.4,258.9 L850.2,257.2 L848.9,255.4 L847.6,253.7 L846.3,252.1 L845.0,250.5 L843.7,248.9 L842.3,247.4 L841.0,246.0 L839.7,244.7 L838.4,243.4 L837.1,242.1 L835.7,241.0 L834.4,239.8 L833.1,238.8 L831.7,237.7 L830.3,236.7 L828.8,235.7 L827.3,234.8 L825.7,233.9 L824.0,233.0 L822.2,232.1 L820.3,231.2 L818.3,230.4 L816.2,229.6 L814.0,228.8 L811.9,228.0 L809.7,227.3 L807.6,226.7 L805.5,226.1 L803.6,225.6 L801.7,225.3 L800.0,225.0 L798.4,224.9 L797.0,224.9 L795.6,225.0 L794.3,225.1 L793.1,225.4 L791.9,225.8 L790.7,226.1 L789.6,226.5 L788.5,226.9 L787.3,227.3 L786.2,227.7 L785.0,228.0 L783.8,228.3 L782.4,228.7 L781.1,229.0 L779.7,229.4 L778.4,229.8 L777.1,230.2 L775.8,230.6 L774.6,230.9 L773.5,231.3 L772.5,231.6 L771.7,231.8 L771.0,232.0 Z" fill="#fff" stroke="none"/>
<path d="M758.0,154.0 L758.8,153.8 L759.9,153.6 L761.1,153.4 L762.5,153.1 L764.0,152.8 L765.6,152.5 L767.2,152.2 L768.9,151.9 L770.5,151.6 L772.1,151.4 L773.6,151.2 L775.0,151.0 L776.3,150.9 L777.5,150.7 L778.6,150.6 L779.6,150.5 L780.7,150.4 L781.8,150.3 L782.9,150.2 L784.0,150.2 L785.3,150.2 L786.7,150.3 L788.3,150.4 L790.0,150.5 L791.9,150.7 L794.1,150.9 L796.4,151.1 L798.8,151.3 L801.3,151.6 L803.9,151.9 L806.6,152.3 L809.2,152.7 L811.8,153.2 L814.3,153.7 L816.7,154.3 L819.0,155.0 L821.2,155.8 L823.3,156.6 L825.3,157.4 L827.3,158.3 L829.2,159.3 L831.1,160.3 L833.0,161.4 L835.0,162.6 L836.9,163.8 L838.9,165.2 L840.9,166.5 L843.0,168.0 L845.2,169.6 L847.4,171.2 L849.7,173.0 L852.0,174.8 L854.4,176.7 L856.8,178.7 L859.1,180.7 L861.4,182.7 L863.7,184.8 L865.9,186.9 L868.0,188.9 L870.0,191.0 L871.9,193.0 L873.7,195.1 L875.5,197.2 L877.2,199.3 L878.8,201.4 L880.4,203.6 L882.0,205.7 L883.6,207.9 L885.2,210.1 L886.7,212.4 L888.4,214.7 L890.0,217.0 L891.7,219.3 L893.4,221.6 L895.1,223.9 L896.8,226.2 L898.5,228.6 L900.2,230.9 L901.9,233.4 L903.6,235.9 L905.2,238.5 L906.8,241.2 L908.4,244.0 L910.0,247.0 L911.5,250.1 L913.0,253.4 L914.5,256.8 L915.9,260.3 L917.3,263.9 L918.7,267.6 L920.1,271.3 L921.4,275.0 L922.8,278.8 L924.2,282.6 L925.6,286.3 L927.0,290.0 L928.4,293.7 L929.9,297.4 L931.3,301.1 L932.8,304.8 L934.2,308.5 L935.7,312.2 L937.1,316.0 L938.6,319.8 L940.0,323.6 L941.3,327.4 L942.7,331.2 L944.0,335.0 L945.3,338.8 L946.5,342.7 L947.7,346.6 L948.9,350.5 L950.1,354.4 L951.2,358.3 L952.4,362.2 L953.5,366.2 L954.6,370.1 L955.8,374.1 L956.9,378.0 L958.0,382.0 L959.1,386.0 L960.3,389.9 L961.4,393.9 L962.6,397.9 L963.7,401.9 L964.9,405.9 L966.0,409.9 L967.1,414.0 L968.1,418.0 L969.1,422.0 L970.1,426.0 L971.0,430.0 L971.9,434.0 L972.7,438.2 L973.5,442.3 L974.3,446.5 L975.0,450.7 L975.8,454.9 L976.4,459.0 L977.0,463.0 L977.6,467.0 L978.1,470.8 L978.6,474.5 L979.0,478.0 L979.4,481.3 L979.7,484.5 L980.0,487.4 L980.2,490.3 L980.4,493.1 L980.6,495.8 L980.6,498.4 L980.7,501.0 L980.6,503.7 L980.5,506.4 L980.3,509.1 L980.0,512.0 L979.6,514.9 L979.2,517.9 L978.8,520.9 L978.3,523.9 L977.7,527.0 L977.0,530.0 L976.2,533.0 L975.4,536.1 L974.5,539.1 L973.4,542.1 L972.3,545.1 L971.0,548.0 L969.6,550.9 L968.2,553.8 L966.6,556.7 L965.0,559.6 L963.2,562.5 L961.4,565.4 L959.4,568.2 L957.4,571.0 L955.2,573.8 L952.9,576.6 L950.5,579.3 L948.0,582.0 L945.3,584.6 L942.5,587.3 L939.6,589.9 L936.5,592.4 L933.3,594.9 L930.0,597.4 L926.6,599.9 L923.2,602.4 L919.7,604.8 L916.1,607.2 L912.6,609.6 L909.0,612.0 L905.3,614.4 L901.3,616.8 L897.2,619.2 L893.0,621.6 L888.7,623.9 L884.4,626.2 L880.1,628.5 L876.0,630.8 L872.1,633.0 L868.4,635.1 L865.0,637.1 L862.0,639.0 L859.3,640.8 L856.9,642.4 L854.8,643.8 L852.8,645.2 L851.1,646.5 L849.4,647.8 L847.9,649.0 L846.5,650.4 L845.1,651.8 L843.8,653.4 L842.4,655.1 L841.0,657.0 L839.6,659.1 L838.2,661.4 L836.8,663.9 L835.5,666.5 L834.3,669.1 L833.1,671.9 L831.9,674.6 L830.8,677.4 L829.8,680.2 L828.8,682.9 L827.9,685.5 L827.0,688.0 L826.2,690.4 L825.5,692.8 L824.8,695.1 L824.2,697.3 L823.7,699.6 L823.2,701.8 L822.8,704.1 L822.4,706.3 L822.0,708.6 L821.6,711.0 L821.3,713.5 L821.0,716.0 L820.7,718.7 L820.5,721.5 L820.3,724.4 L820.1,727.4 L820.0,730.5 L819.9,733.5 L819.8,736.5 L819.8,739.5 L819.7,742.3 L819.6,745.1 L819.6,747.6 L819.5,750.0 L819.4,752.2 L819.4,754.2 L819.3,756.0 L819.3,757.8 L819.2,759.4 L819.2,761.0 L819.2,762.5 L819.1,764.0 L819.1,765.5 L819.1,766.9 L819.0,768.4 L819.0,770.0 L819.0,771.6 L818.9,773.3 L818.9,775.1 L818.8,776.8 L818.8,778.6 L818.7,780.2 L818.7,781.9 L818.6,783.4 L818.6,784.8 L818.6,786.1 L818.5,787.1 L818.5,788.0" fill="none" stroke="#3d3a38" stroke-width="1.15" />
<path d="M771.0,232.0 L771.7,231.8 L772.5,231.6 L773.5,231.3 L774.6,230.9 L775.8,230.6 L777.1,230.2 L778.4,229.8 L779.7,229.4 L781.1,229.0 L782.4,228.7 L783.8,228.3 L785.0,228.0 L786.2,227.7 L787.3,227.3 L788.5,226.9 L789.6,226.5 L790.7,226.1 L791.9,225.8 L793.1,225.4 L794.3,225.1 L795.6,225.0 L797.0,224.9 L798.4,224.9 L800.0,225.0 L801.7,225.3 L803.6,225.6 L805.5,226.1 L807.6,226.7 L809.7,227.3 L811.9,228.0 L814.0,228.8 L816.2,229.6 L818.3,230.4 L820.3,231.2 L822.2,232.1 L824.0,233.0 L825.7,233.9 L827.3,234.8 L828.8,235.7 L830.3,236.7 L831.7,237.7 L833.1,238.8 L834.4,239.8 L835.7,241.0 L837.1,242.1 L838.4,243.4 L839.7,244.7 L841.0,246.0 L842.3,247.4 L843.7,248.9 L845.0,250.5 L846.3,252.1 L847.6,253.7 L848.9,255.4 L850.2,257.2 L851.4,258.9 L852.6,260.7 L853.8,262.5 L854.9,264.2 L856.0,266.0 L857.0,267.8 L857.9,269.6 L858.8,271.5 L859.7,273.3 L860.5,275.2 L861.2,277.1 L862.0,279.0 L862.8,280.9 L863.5,282.7 L864.3,284.5 L865.1,286.3 L866.0,288.0 L866.9,289.6 L867.8,291.0 L868.6,292.4 L869.5,293.6 L870.4,294.9 L871.3,296.1 L872.2,297.4 L873.1,298.8 L874.1,300.3 L875.0,302.0 L876.0,303.9 L877.0,306.0 L878.0,308.4 L879.1,311.0 L880.2,313.8 L881.3,316.8 L882.4,319.9 L883.6,323.1 L884.7,326.3 L885.8,329.6 L886.9,332.8 L888.0,336.0 L889.0,339.0 L890.0,342.0 L890.9,344.9 L891.9,347.7 L892.8,350.6 L893.7,353.4 L894.5,356.3 L895.4,359.1 L896.2,361.8 L897.0,364.6 L897.8,367.2 L898.5,369.9 L899.3,372.5 L900.0,375.0 L900.7,377.5 L901.3,379.8 L902.0,382.1 L902.6,384.4 L903.1,386.6 L903.7,388.8 L904.2,391.0 L904.8,393.1 L905.3,395.3 L905.9,397.5 L906.4,399.7 L907.0,402.0 L907.6,404.3 L908.2,406.5 L908.7,408.7 L909.3,410.9 L909.9,413.1 L910.4,415.3 L911.0,417.6 L911.6,419.9 L912.2,422.3 L912.8,424.7 L913.4,427.3 L914.0,430.0 L914.7,432.8 L915.4,435.8 L916.1,439.0 L916.9,442.2 L917.6,445.5 L918.4,448.8 L919.1,452.2 L919.8,455.5 L920.5,458.8 L921.1,462.0 L921.6,465.0 L922.0,468.0 L922.4,470.8 L922.7,473.6 L923.0,476.3 L923.3,478.9 L923.5,481.5 L923.6,484.1 L923.7,486.6 L923.7,489.1 L923.7,491.6 L923.6,494.0 L923.3,496.5 L923.0,499.0 L922.6,501.5 L922.1,504.0 L921.6,506.5 L921.0,509.0 L920.3,511.5 L919.6,514.0 L918.7,516.4 L917.8,518.9 L916.7,521.2 L915.6,523.5 L914.4,525.8 L913.0,528.0 L911.5,530.1 L909.9,532.2 L908.1,534.2 L906.2,536.1 L904.2,538.0 L902.2,539.9 L900.1,541.7 L897.9,543.6 L895.7,545.4 L893.5,547.2 L891.2,549.1 L889.0,551.0 L886.8,552.9 L884.4,554.9 L882.0,556.9 L879.6,558.9 L877.2,561.0 L874.7,563.0 L872.2,564.9 L869.7,566.9 L867.2,568.7 L864.8,570.5 L862.4,572.3 L860.0,573.9 L857.7,575.4 L855.4,576.8 L853.2,578.0 L850.9,579.2 L848.7,580.4 L846.5,581.4 L844.3,582.5 L842.1,583.7 L839.9,584.8 L837.7,586.0 L835.5,587.4 L833.3,588.8 L831.1,590.3 L828.8,592.0 L826.5,593.6 L824.2,595.4 L821.9,597.2 L819.7,599.0 L817.4,600.8 L815.2,602.7 L813.0,604.5 L810.8,606.4 L808.7,608.3 L806.7,610.1 L804.7,611.9 L802.7,613.8 L800.7,615.6 L798.8,617.5 L796.9,619.4 L795.0,621.3 L793.2,623.2 L791.4,625.1 L789.8,626.9 L788.2,628.8 L786.7,630.7 L785.3,632.5 L784.0,634.3 L782.9,636.1 L781.8,637.9 L780.9,639.6 L780.0,641.4 L779.2,643.1 L778.4,644.9 L777.7,646.7 L777.0,648.4 L776.2,650.2 L775.5,652.0 L774.7,653.9 L773.9,655.8 L773.1,657.6 L772.3,659.5 L771.6,661.4 L770.8,663.3 L770.1,665.3 L769.3,667.2 L768.6,669.2 L768.0,671.2 L767.3,673.2 L766.7,675.2 L766.1,677.3 L765.5,679.4 L765.0,681.7 L764.5,684.0 L764.0,686.4 L763.5,688.7 L763.0,691.1 L762.6,693.5 L762.2,695.8 L761.8,698.0 L761.5,700.1 L761.1,702.1 L760.8,704.0 L760.5,705.7 L760.3,707.1 L760.0,708.4 L759.8,709.6 L759.6,710.7 L759.5,711.8 L759.3,712.9 L759.2,714.0 L759.1,715.3 L759.0,716.6 L758.8,718.2 L758.7,720.0 L758.6,722.0 L758.4,724.1 L758.3,726.3 L758.2,728.7 L758.1,731.1 L758.0,733.6 L757.9,736.2 L757.8,738.9 L757.8,741.6 L757.7,744.4 L757.6,747.2 L757.6,750.0 L757.6,753.0 L757.5,756.3 L757.5,759.8 L757.5,763.5 L757.5,767.2 L757.5,770.9 L757.5,774.5 L757.6,777.9 L757.6,781.0 L757.6,783.8 L757.6,786.1 L757.6,788.0" fill="none" stroke="#3d3a38" stroke-width="1.15" />
<path d="M761.6,153.3 C783.2,149.1 798.1,226.2 776.5,230.4" fill="none" stroke="#3d3a38" stroke-width="0.9" />
<path d="M768.3,152.0 C789.8,148.2 803.5,225.0 782.0,228.8" fill="none" stroke="#3d3a38" stroke-width="0.9" />
<path d="M776.2,150.9 C797.7,148.0 808.0,224.7 786.5,227.6" fill="none" stroke="#3d3a38" stroke-width="0.9" />
<path d="M785.4,150.2 C806.8,149.0 811.1,225.3 789.7,226.5" fill="none" stroke="#3d3a38" stroke-width="0.9" />
<path d="M795.3,151.0 C816.2,151.8 813.3,226.4 792.4,225.6" fill="none" stroke="#3d3a38" stroke-width="0.9" />
<path d="M804.8,152.0 C825.2,154.6 815.9,227.6 795.5,225.0" fill="none" stroke="#3d3a38" stroke-width="0.9" />
<path d="M813.3,153.5 C833.4,157.4 819.5,228.8 799.5,225.0" fill="none" stroke="#3d3a38" stroke-width="0.9" />
<path d="M822.0,156.1 C841.5,161.4 822.5,230.9 803.1,225.5" fill="none" stroke="#3d3a38" stroke-width="0.9" />
<path d="M830.0,159.7 C848.7,166.2 825.5,232.9 806.9,226.5" fill="none" stroke="#3d3a38" stroke-width="0.9" />
<path d="M838.4,164.9 C855.9,173.0 826.9,235.3 809.4,227.2" fill="none" stroke="#3d3a38" stroke-width="0.9" />
<path d="M846.7,170.7 C862.7,180.5 827.7,237.7 811.7,227.9" fill="none" stroke="#3d3a38" stroke-width="0.9" />
<path d="M854.3,176.7 C869.0,187.9 829.0,240.1 814.3,228.9" fill="none" stroke="#3d3a38" stroke-width="0.9" />
<path d="M860.6,182.0 C874.2,193.7 832.5,242.3 818.9,230.6" fill="none" stroke="#3d3a38" stroke-width="0.9" />
<path d="M866.5,187.5 C879.2,199.5 836.4,244.8 823.7,232.9" fill="none" stroke="#3d3a38" stroke-width="0.9" />
<path d="M872.0,193.1 C883.9,205.2 840.7,247.8 828.7,235.7" fill="none" stroke="#3d3a38" stroke-width="0.9" />
<path d="M877.0,199.1 C888.2,211.3 844.8,251.3 833.5,239.1" fill="none" stroke="#3d3a38" stroke-width="0.9" />
<path d="M882.0,205.7 C892.4,218.0 848.2,255.2 837.8,242.9" fill="none" stroke="#3d3a38" stroke-width="0.9" />
<path d="M886.8,212.5 C896.5,225.0 851.6,259.5 841.9,247.0" fill="none" stroke="#3d3a38" stroke-width="0.9" />
<path d="M892.1,219.9 C900.8,233.0 854.1,264.0 845.4,250.9" fill="none" stroke="#3d3a38" stroke-width="0.9" />
<path d="M896.9,226.4 C905.2,239.8 857.6,269.3 849.3,255.9" fill="none" stroke="#3d3a38" stroke-width="0.9" />
<path d="M901.1,232.3 C909.5,245.7 861.9,275.4 853.5,262.0" fill="none" stroke="#3d3a38" stroke-width="0.9" />
<path d="M904.8,237.8 C913.5,251.0 866.5,282.3 857.7,269.1" fill="none" stroke="#3d3a38" stroke-width="0.9" />
<path d="M908.5,244.2 C917.5,257.5 869.8,289.5 860.9,276.2" fill="none" stroke="#3d3a38" stroke-width="0.9" />
<path d="M912.5,252.4 C920.8,266.2 871.3,295.6 863.1,281.7" fill="none" stroke="#3d3a38" stroke-width="0.9" />
<path d="M916.2,261.1 C923.4,275.4 872.5,301.0 865.4,286.7" fill="none" stroke="#3d3a38" stroke-width="0.9" />
<path d="M919.3,269.3 C925.7,283.6 874.8,306.3 868.5,292.1" fill="none" stroke="#3d3a38" stroke-width="0.9" />
<path d="M922.2,277.1 C928.0,291.1 878.1,311.6 872.4,297.6" fill="none" stroke="#3d3a38" stroke-width="0.9" />
<path d="M924.9,284.5 C930.3,298.2 881.4,317.5 876.0,303.8" fill="none" stroke="#3d3a38" stroke-width="0.9" />
<path d="M927.7,291.8 C932.9,305.5 884.1,324.1 878.9,310.5" fill="none" stroke="#3d3a38" stroke-width="0.9" />
<path d="M930.5,299.0 C935.6,312.8 886.6,331.0 881.5,317.2" fill="none" stroke="#3d3a38" stroke-width="0.9" />
<path d="M933.3,306.2 C938.3,320.0 888.9,337.9 883.9,324.1" fill="none" stroke="#3d3a38" stroke-width="0.9" />
<path d="M936.2,313.5 C941.0,327.4 891.2,344.9 886.3,330.9" fill="none" stroke="#3d3a38" stroke-width="0.9" />
<path d="M938.9,320.7 C943.7,334.8 893.4,351.9 888.6,337.8" fill="none" stroke="#3d3a38" stroke-width="0.9" />
<path d="M941.6,328.0 C946.2,342.2 895.5,358.8 890.9,344.6" fill="none" stroke="#3d3a38" stroke-width="0.9" />
<path d="M944.1,335.3 C948.7,349.5 897.7,365.9 893.1,351.6" fill="none" stroke="#3d3a38" stroke-width="0.9" />
<path d="M946.4,342.5 C951.0,356.8 899.8,373.0 895.3,358.7" fill="none" stroke="#3d3a38" stroke-width="0.9" />
<path d="M948.7,349.8 C953.2,364.2 901.8,380.1 897.4,365.8" fill="none" stroke="#3d3a38" stroke-width="0.9" />
<path d="M950.9,357.1 C955.3,371.6 903.8,387.2 899.4,372.8" fill="none" stroke="#3d3a38" stroke-width="0.9" />
<path d="M953.0,364.5 C957.3,379.0 905.6,394.3 901.3,379.9" fill="none" stroke="#3d3a38" stroke-width="0.9" />
<path d="M955.1,371.9 C959.4,386.4 907.4,401.5 903.2,386.9" fill="none" stroke="#3d3a38" stroke-width="0.9" />
<path d="M957.2,379.2 C961.4,393.8 909.2,408.7 905.0,394.1" fill="none" stroke="#3d3a38" stroke-width="0.9" />
<path d="M959.3,386.5 C963.4,401.2 911.0,416.0 906.8,401.3" fill="none" stroke="#3d3a38" stroke-width="0.9" />
<path d="M961.4,393.7 C965.5,408.5 912.8,423.3 908.7,408.5" fill="none" stroke="#3d3a38" stroke-width="0.9" />
<path d="M963.5,401.1 C967.5,415.6 914.5,430.1 910.5,415.6" fill="none" stroke="#3d3a38" stroke-width="0.9" />
<path d="M965.7,408.9 C969.4,423.2 915.9,436.9 912.3,422.6" fill="none" stroke="#3d3a38" stroke-width="0.9" />
<path d="M967.9,417.0 C971.1,431.1 917.1,443.6 913.9,429.5" fill="none" stroke="#3d3a38" stroke-width="0.9" />
<path d="M969.9,425.3 C972.8,439.1 918.4,450.4 915.5,436.6" fill="none" stroke="#3d3a38" stroke-width="0.9" />
<path d="M971.8,433.7 C974.3,447.1 919.7,457.3 917.2,443.8" fill="none" stroke="#3d3a38" stroke-width="0.9" />
<path d="M973.5,442.0 C975.7,455.1 921.2,464.5 919.0,451.4" fill="none" stroke="#3d3a38" stroke-width="0.9" />
<path d="M975.0,450.7 C977.0,463.4 922.5,471.8 920.5,459.1" fill="none" stroke="#3d3a38" stroke-width="0.9" />
<path d="M976.5,459.5 C978.2,471.9 923.5,479.2 921.8,466.8" fill="none" stroke="#3d3a38" stroke-width="0.9" />
<path d="M977.8,468.5 C979.2,480.5 924.2,486.8 922.8,474.7" fill="none" stroke="#3d3a38" stroke-width="0.9" />
<path d="M978.9,477.5 C980.0,489.3 924.6,494.4 923.5,482.6" fill="none" stroke="#3d3a38" stroke-width="0.9" />
<path d="M980.0,487.4 C980.5,499.4 924.2,501.7 923.7,489.7" fill="none" stroke="#3d3a38" stroke-width="0.9" />
<path d="M980.6,498.0 C980.2,510.3 923.0,508.4 923.4,496.2" fill="none" stroke="#3d3a38" stroke-width="0.9" />
<path d="M980.3,508.8 C979.0,521.1 921.1,514.8 922.4,502.4" fill="none" stroke="#3d3a38" stroke-width="0.9" />
<path d="M979.0,519.3 C976.8,531.7 918.8,521.1 921.1,508.7" fill="none" stroke="#3d3a38" stroke-width="0.9" />
<path d="M977.0,530.0 C973.7,542.3 916.1,526.9 919.3,514.6" fill="none" stroke="#3d3a38" stroke-width="0.9" />
<path d="M973.4,542.1 C968.5,553.9 912.8,530.7 917.8,518.8" fill="none" stroke="#3d3a38" stroke-width="0.9" />
<path d="M968.3,553.5 C961.8,564.7 909.4,534.1 915.9,522.9" fill="none" stroke="#3d3a38" stroke-width="0.9" />
<path d="M962.6,563.5 C955.0,574.0 905.5,538.3 913.2,527.7" fill="none" stroke="#3d3a38" stroke-width="0.9" />
<path d="M956.0,572.8 C947.3,582.7 901.1,542.2 909.7,532.3" fill="none" stroke="#3d3a38" stroke-width="0.9" />
<path d="M949.1,580.8 C939.8,590.2 895.8,546.5 905.1,537.1" fill="none" stroke="#3d3a38" stroke-width="0.9" />
<path d="M942.1,587.6 C932.4,596.7 890.0,551.1 899.7,542.0" fill="none" stroke="#3d3a38" stroke-width="0.9" />
<path d="M934.6,593.9 C924.6,602.5 884.0,555.4 894.1,546.7" fill="none" stroke="#3d3a38" stroke-width="0.9" />
<path d="M926.9,599.7 C916.6,607.9 878.2,559.7 888.5,551.5" fill="none" stroke="#3d3a38" stroke-width="0.9" />
<path d="M919.1,605.2 C908.7,613.0 872.3,564.1 882.7,556.4" fill="none" stroke="#3d3a38" stroke-width="0.9" />
<path d="M911.5,610.4 C901.0,617.8 866.2,568.8 876.7,561.4" fill="none" stroke="#3d3a38" stroke-width="0.9" />
<path d="M903.6,615.4 C893.1,622.4 860.1,573.2 870.6,566.1" fill="none" stroke="#3d3a38" stroke-width="0.9" />
<path d="M895.4,620.2 C884.9,626.8 854.0,577.3 864.5,570.7" fill="none" stroke="#3d3a38" stroke-width="0.9" />
<path d="M887.3,624.7 C876.7,630.9 847.6,581.4 858.1,575.1" fill="none" stroke="#3d3a38" stroke-width="0.9" />
<path d="M879.7,628.8 C869.1,634.9 840.3,585.4 850.9,579.2" fill="none" stroke="#3d3a38" stroke-width="0.9" />
<path d="M872.6,632.7 C862.1,639.0 832.3,589.6 842.9,583.3" fill="none" stroke="#3d3a38" stroke-width="0.9" />
<path d="M866.1,636.4 C855.8,643.1 824.3,594.7 834.6,588.0" fill="none" stroke="#3d3a38" stroke-width="0.9" />
<path d="M860.0,640.3 C850.1,647.4 816.7,600.7 826.6,593.6" fill="none" stroke="#3d3a38" stroke-width="0.9" />
<path d="M854.3,644.1 C844.8,651.8 809.2,607.4 818.7,599.8" fill="none" stroke="#3d3a38" stroke-width="0.9" />
<path d="M849.3,647.9 C840.5,656.2 801.6,615.1 810.4,606.8" fill="none" stroke="#3d3a38" stroke-width="0.9" />
<path d="M844.7,652.3 C836.5,661.3 794.3,623.0 802.5,614.0" fill="none" stroke="#3d3a38" stroke-width="0.9" />
<path d="M840.8,657.2 C833.2,667.1 787.1,631.5 794.7,621.6" fill="none" stroke="#3d3a38" stroke-width="0.9" />
<path d="M837.4,662.9 C830.3,673.5 780.5,640.2 787.6,629.6" fill="none" stroke="#3d3a38" stroke-width="0.9" />
<path d="M834.5,668.6 C828.1,679.9 775.1,649.8 781.5,638.5" fill="none" stroke="#3d3a38" stroke-width="0.9" />
<path d="M832.1,674.3 C826.6,686.0 771.4,660.3 776.9,648.5" fill="none" stroke="#3d3a38" stroke-width="0.9" />
<path d="M829.8,680.1 C825.2,692.3 768.2,670.6 772.8,658.5" fill="none" stroke="#3d3a38" stroke-width="0.9" />
<path d="M827.4,686.7 C823.4,699.1 765.1,680.3 769.1,667.9" fill="none" stroke="#3d3a38" stroke-width="0.9" />
<path d="M825.3,693.4 C821.9,706.0 762.7,690.1 766.1,677.4" fill="none" stroke="#3d3a38" stroke-width="0.9" />
<path d="M823.5,700.6 C820.5,713.4 760.9,699.5 763.9,686.8" fill="none" stroke="#3d3a38" stroke-width="0.9" />
<path d="M822.2,707.6 C819.8,720.4 759.7,709.4 762.1,696.6" fill="none" stroke="#3d3a38" stroke-width="0.9" />
<path d="M821.1,714.8 C819.3,727.8 758.6,719.1 760.4,706.2" fill="none" stroke="#3d3a38" stroke-width="0.9" />
<path d="M820.4,722.0 C819.1,735.1 757.7,729.0 759.0,715.9" fill="none" stroke="#3d3a38" stroke-width="0.9" />
<path d="M820.0,729.7 C819.1,742.8 757.4,738.3 758.4,725.2" fill="none" stroke="#3d3a38" stroke-width="0.9" />
<path d="M819.8,737.4 C819.2,750.6 757.4,747.7 758.0,734.5" fill="none" stroke="#3d3a38" stroke-width="0.9" />
<path d="M819.6,745.1 C819.4,758.3 757.4,757.0 757.7,743.8" fill="none" stroke="#3d3a38" stroke-width="0.9" />
<path d="M819.4,753.1 C819.3,766.3 757.5,765.9 757.6,752.8" fill="none" stroke="#3d3a38" stroke-width="0.9" />
<path d="M819.2,761.5 C819.1,774.7 757.5,774.5 757.5,761.3" fill="none" stroke="#3d3a38" stroke-width="0.9" />
<path d="M819.0,770.3 C818.8,783.4 757.4,782.7 757.5,769.6" fill="none" stroke="#3d3a38" stroke-width="0.9" />
<path d="M818.7,779.3 C818.4,792.3 757.2,790.6 757.6,777.6" fill="none" stroke="#3d3a38" stroke-width="0.9" />
<path d="M413.0,173.0 L413.1,171.9 L413.3,170.7 L413.7,169.6 L414.2,168.5 L414.9,167.4 L415.8,166.3 L416.8,165.3 L417.9,164.2 L419.2,163.2 L420.6,162.2 L422.2,161.2 L423.9,160.3 L425.7,159.4 L427.6,158.5 L429.7,157.7 L431.9,156.9 L434.1,156.2 L436.5,155.5 L439.0,154.9 L441.5,154.3 L444.1,153.8 L446.8,153.3 L449.6,152.8 L452.4,152.5 L455.2,152.1 L458.1,151.9 L461.1,151.7 L464.0,151.5 L467.0,151.4 L470.0,151.4 L473.0,151.4 L476.0,151.5 L478.9,151.7 L481.9,151.9 L484.8,152.1 L487.6,152.5 L490.4,152.8 L493.2,153.3 L495.9,153.8 L498.5,154.3 L501.0,154.9 L503.5,155.5 L505.9,156.2 L508.1,156.9 L510.3,157.7 L512.4,158.5 L514.3,159.4 L516.1,160.3 L517.8,161.2 L519.4,162.2 L520.8,163.2 L522.1,164.2 L523.2,165.3 L524.2,166.3 L525.1,167.4 L525.8,168.5 L526.3,169.6 L526.7,170.7 L526.9,171.9 L527.0,173.0 L527.0,204.0 L526.9,205.1 L526.7,206.2 L526.3,207.3 L525.8,208.4 L525.1,209.4 L524.2,210.5 L523.2,211.5 L522.1,212.5 L520.8,213.5 L519.4,214.5 L517.8,215.4 L516.1,216.3 L514.3,217.2 L512.4,218.1 L510.3,218.8 L508.1,219.6 L505.9,220.3 L503.5,221.0 L501.0,221.6 L498.5,222.2 L495.9,222.7 L493.2,223.2 L490.4,223.6 L487.6,224.0 L484.8,224.3 L481.9,224.5 L478.9,224.7 L476.0,224.9 L473.0,225.0 L470.0,225.0 L467.0,225.0 L464.0,224.9 L461.1,224.7 L458.1,224.5 L455.2,224.3 L452.4,224.0 L449.6,223.6 L446.8,223.2 L444.1,222.7 L441.5,222.2 L439.0,221.6 L436.5,221.0 L434.1,220.3 L431.9,219.6 L429.7,218.8 L427.6,218.1 L425.7,217.2 L423.9,216.3 L422.2,215.4 L420.6,214.5 L419.2,213.5 L417.9,212.5 L416.8,211.5 L415.8,210.5 L414.9,209.4 L414.2,208.4 L413.7,207.3 L413.3,206.2 L413.1,205.1 L413.0,204.0 Z" fill="#fff" stroke="none"/>
<path d="M426.3,186.9 L424.5,186.0 L422.7,185.1 L421.1,184.1 L419.6,183.1 L418.3,182.1 L417.1,181.1 L416.1,180.0 L415.2,178.9 L414.4,177.8 L413.8,176.7 L413.4,175.6 L413.1,174.4 L413.0,173.3 L413.0,172.2 L413.2,171.0 L413.6,169.9 L414.1,168.8 L414.8,167.7 L415.6,166.6 L416.5,165.5 L417.6,164.5 L418.9,163.4 L420.3,162.4 L421.8,161.4 L423.5,160.5 L425.3,159.6 L427.2,158.7 L429.3,157.9 L431.4,157.1 L433.7,156.4 L436.0,155.7 L438.5,155.0 L441.0,154.4 L443.7,153.8 L446.3,153.3 L449.1,152.9 L451.9,152.5 L454.8,152.2 L457.7,151.9 L460.6,151.7 L463.6,151.5 L466.6,151.4 L469.6,151.4 L472.6,151.4 L475.6,151.5 L478.6,151.6 L481.5,151.8 L484.4,152.1 L487.3,152.4 L490.1,152.8 L492.9,153.2 L495.6,153.7 L498.3,154.2 L500.8,154.8 L503.3,155.5 L505.7,156.2 L508.0,156.9 L510.2,157.7 L512.2,158.5 L514.2,159.4 L516.0,160.3 L517.7,161.2 L519.3,162.2 L520.7,163.2 L522.0,164.2 L523.2,165.2 L524.2,166.3 L525.0,167.4 L525.7,168.5 L526.3,169.6 L526.7,170.7 L526.9,171.9 L527.0,173.0" fill="none" stroke="#3d3a38" stroke-width="1.3" />
<path d="M527.0,173.0 L526.9,174.1 L526.7,175.3 L526.3,176.4 L525.7,177.6 L525.0,178.7 L524.1,179.8 L523.1,180.8 L521.9,181.9 L520.6,182.9 L519.1,183.9 L517.5,184.9 L515.8,185.9 L513.9,186.8 L512.0,187.6 L509.8,188.4 L507.6,189.2 L505.3,190.0 L502.9,190.6 L500.4,191.3 L497.7,191.9 L495.1,192.4 L492.3,192.9 L489.5,193.3 L486.6,193.7 L483.7,194.0 L480.7,194.2 L477.8,194.4 L474.8,194.5 L471.7,194.6 L468.7,194.6 L465.7,194.5 L462.7,194.4 L459.7,194.2 L456.7,194.0 L453.8,193.7 L450.9,193.4 L448.1,192.9 L445.3,192.5 L442.6,191.9 L440.0,191.4 L437.5,190.7 L435.0,190.1 L432.7,189.3 L430.5,188.6 L428.3,187.7 L426.3,186.9" fill="none" stroke="#3d3a38" stroke-width="1.3" />
<path d="M423.2,183.2 L421.9,182.3 L420.6,181.4 L419.6,180.5 L418.6,179.5 L417.8,178.5 L417.1,177.5 L416.6,176.5 L416.3,175.5 L416.1,174.4 L416.0,173.4 L416.1,172.4 L416.3,171.3 L416.7,170.3 L417.3,169.3 L418.0,168.3 L418.8,167.3 L419.8,166.3 L420.9,165.4 L422.1,164.5 L423.5,163.6 L425.0,162.7 L426.7,161.9 L428.5,161.0 L430.3,160.3 L432.3,159.5 L434.4,158.8 L436.6,158.2 L438.9,157.6 L441.3,157.0 L443.7,156.5 L446.3,156.0 L448.9,155.6 L451.5,155.2 L454.2,154.8 L457.0,154.6 L459.8,154.4 L462.6,154.2 L465.4,154.1 L468.3,154.0 L471.1,154.0 L474.0,154.1 L476.8,154.2 L479.7,154.3 L482.5,154.5 L485.2,154.8 L487.9,155.1 L490.6,155.5 L493.2,155.9 L495.8,156.4 L498.2,156.9 L500.6,157.4 L502.9,158.0 L505.1,158.7 L507.3,159.4 L509.3,160.1 L511.2,160.9 L513.0,161.7 L514.6,162.5 L516.2,163.4 L517.6,164.3 L518.9,165.2 L520.0,166.2 L521.0,167.1 L521.9,168.1 L522.6,169.1 L523.2,170.1" fill="none" stroke="#3d3a38" stroke-width="0.8" />
<path d="M522.0,172.5 L521.9,173.4 L521.7,174.4 L521.4,175.3 L520.9,176.2 L520.2,177.2 L519.5,178.1 L518.5,179.0 L517.5,179.8 L516.3,180.7 L515.0,181.5 L513.6,182.3 L512.1,183.1 L510.4,183.8 L508.6,184.5 L506.8,185.2 L504.8,185.9 L502.7,186.5 L500.6,187.1 L498.3,187.6 L496.0,188.1 L493.6,188.5 L491.2,188.9 L488.6,189.3 L486.1,189.6 L483.5,189.9 L480.8,190.1 L478.1,190.3 L475.4,190.4 L472.7,190.5 L470.0,190.5 L467.3,190.5 L464.6,190.4 L461.9,190.3 L459.2,190.1 L456.5,189.9 L453.9,189.6 L451.4,189.3 L448.8,188.9 L446.4,188.5 L444.0,188.1 L441.7,187.6 L439.4,187.1 L437.3,186.5 L435.2,185.9 L433.2,185.2 L431.4,184.5 L429.6,183.8 L427.9,183.1 L426.4,182.3 L425.0,181.5 L423.7,180.7 L422.5,179.8 L421.5,179.0 L420.5,178.1 L419.8,177.2 L419.1,176.2 L418.6,175.3 L418.3,174.4 L418.1,173.4 L418.0,172.5 L418.1,171.6 L418.3,170.6 L418.6,169.7 L419.1,168.8 L419.8,167.8 L420.5,166.9 L421.5,166.0 L422.5,165.2 L423.7,164.3 L425.0,163.5 L426.4,162.7 L427.9,161.9 L429.6,161.2 L431.4,160.5 L433.2,159.8 L435.2,159.1 L437.3,158.5 L439.4,157.9 L441.7,157.4 L444.0,156.9 L446.4,156.5 L448.8,156.1 L451.4,155.7 L453.9,155.4 L456.5,155.1 L459.2,154.9 L461.9,154.7 L464.6,154.6 L467.3,154.5 L470.0,154.5 L472.7,154.5 L475.4,154.6 L478.1,154.7 L480.8,154.9 L483.5,155.1 L486.1,155.4 L488.6,155.7 L491.2,156.1 L493.6,156.5 L496.0,156.9 L498.3,157.4 L500.6,157.9 L502.7,158.5 L504.8,159.1 L506.8,159.8 L508.6,160.5 L510.4,161.2 L512.1,161.9 L513.6,162.7 L515.0,163.5 L516.3,164.3 L517.5,165.2 L518.5,166.0 L519.5,166.9 L520.2,167.8 L520.9,168.8 L521.4,169.7 L521.7,170.6 L521.9,171.6 L522.0,172.5" fill="none" stroke="#3d3a38" stroke-width="1.1" />
<path d="M413.2,174 L413.2,204" fill="none" stroke="#3d3a38" stroke-width="1.1" />
<path d="M498.5,222.2 L495.9,222.7 L493.2,223.2 L490.4,223.6 L487.6,224.0 L484.8,224.3 L481.9,224.5 L478.9,224.7 L476.0,224.9 L473.0,225.0 L470.0,225.0 L467.0,225.0 L464.0,224.9 L461.1,224.7 L458.1,224.5 L455.2,224.3 L452.4,224.0 L449.6,223.6 L446.8,223.2 L444.1,222.7 L441.5,222.2 L439.0,221.6 L436.5,221.0 L434.1,220.3 L431.9,219.6 L429.7,218.8 L427.6,218.1 L425.7,217.2 L423.9,216.3 L422.2,215.4 L420.6,214.5 L419.2,213.5 L417.9,212.5 L416.8,211.5 L415.8,210.5 L414.9,209.4 L414.2,208.4 L413.7,207.3 L413.3,206.2 L413.1,205.1 L413.0,204.0" fill="none" stroke="#3d3a38" stroke-width="1.2" />
<path d="M496.8,223.2 L494.0,223.7 L491.3,224.1 L488.4,224.5 L485.5,224.8 L482.6,225.0 L479.6,225.2 L476.6,225.4 L473.5,225.5 L470.5,225.5 L467.5,225.5 L464.4,225.4 L461.4,225.3 L458.4,225.1 L455.5,224.9 L452.6,224.6 L449.7,224.2 L446.9,223.8 L444.1,223.4 L441.5,222.9 L438.9,222.3 L436.4,221.7 L434.0,221.1 L431.7,220.4 L429.5,219.7 L427.4,219.0 L425.4,218.2 L423.6,217.3 L421.9,216.5 L420.4,215.6 L418.9,214.7 L417.7,213.7 L416.5,212.8 L415.6,211.8 L414.7,210.8 L414.1,209.8 L413.6,208.7 L413.2,207.7" fill="none" stroke="#3d3a38" stroke-width="0.8" />
<path d="M454.4,184.4 L466.4,169.2 C468,167.5 471.5,167.5 472.4,170.5 Z" fill="#fff" stroke="#3d3a38" stroke-width="1.0"/>
<ellipse cx="468" cy="169.8" rx="1.6" ry="1.1" fill="#231f20"/>
<path d="M492.0,192.0 C491.2,194.5 487.0,202.0 487.0,207.0 C487.0,212.0 491.2,219.5 492.0,222.0" fill="none" stroke="#3d3a38" stroke-width="1.0" />
<path d="M496.0,192.0 C495.2,194.5 491.0,202.0 491.0,207.0 C491.0,212.0 495.2,219.5 496.0,222.0" fill="none" stroke="#3d3a38" stroke-width="1.0" />
<path d="M501.0,192.0 C500.2,194.5 496.0,202.0 496.0,207.0 C496.0,212.0 500.2,219.5 501.0,222.0" fill="none" stroke="#3d3a38" stroke-width="1.0" />
<path d="M492.0,300.0 C492.0,301.3 490.8,304.2 492.0,308.0 C493.2,311.8 497.0,319.0 499.0,323.0 C501.0,327.0 503.2,329.0 504.0,332.0 C504.8,335.0 497.2,337.7 504.0,341.0 C510.8,344.3 524.5,347.8 545.0,352.0 C565.5,356.2 601.2,365.0 627.0,366.0 C652.8,367.0 679.5,362.2 700.0,358.0 C720.5,353.8 741.5,345.2 750.0,341.0 C758.5,336.8 749.8,336.2 751.0,333.0 C752.2,329.8 755.2,326.7 757.0,322.0 C758.8,317.3 761.2,310.3 762.0,305.0 C762.8,299.7 762.0,292.5 762.0,290.0 Z" fill="#fff" stroke="none"/>
<path d="M492.0,308.0 C494.7,309.8 499.2,314.5 508.0,319.0 C516.8,323.5 529.7,330.5 545.0,335.0 C560.3,339.5 586.3,343.8 600.0,346.0 C613.7,348.2 617.8,347.8 627.0,348.0 C636.2,348.2 642.8,348.3 655.0,347.0 C667.2,345.7 685.8,343.5 700.0,340.0 C714.2,336.5 730.0,330.7 740.0,326.0 C750.0,321.3 756.7,314.3 760.0,312.0" fill="none" stroke="#231f20" stroke-width="1.6" />
<path d="M495.0,320.0 C497.2,320.8 499.7,321.5 508.0,325.0 C516.3,328.5 529.7,336.7 545.0,341.0 C560.3,345.3 586.3,349.0 600.0,351.0 C613.7,353.0 617.8,352.8 627.0,353.0 C636.2,353.2 642.8,353.3 655.0,352.0 C667.2,350.7 685.8,348.3 700.0,345.0 C714.2,341.7 731.3,335.3 740.0,332.0 C748.7,328.7 750.0,326.2 752.0,325.0" fill="none" stroke="#3d3a38" stroke-width="1.1" />
<path d="M504.0,332.0 C506.2,333.0 510.2,335.5 517.0,338.0 C523.8,340.5 531.2,343.4 545.0,347.0 C558.8,350.6 586.3,357.1 600.0,359.4 C613.7,361.7 617.8,360.9 627.0,361.0 C636.2,361.1 642.8,361.5 655.0,360.0 C667.2,358.5 685.8,355.2 700.0,352.0 C714.2,348.8 731.5,343.8 740.0,341.0 C748.5,338.2 749.2,336.0 751.0,335.0" fill="none" stroke="#3d3a38" stroke-width="1.4" />
<path d="M504.0,334.0 C510.8,336.6 529.0,344.8 545.0,349.5 C561.0,354.2 586.3,359.7 600.0,362.0 C613.7,364.3 617.8,363.4 627.0,363.5 C636.2,363.6 642.8,363.9 655.0,362.5 C667.2,361.1 685.8,358.2 700.0,355.0 C714.2,351.8 731.5,346.0 740.0,343.0 C748.5,340.0 749.2,338.0 751.0,337.0" fill="none" stroke="#3d3a38" stroke-width="1.1" />
<path d="M492.0,300.0 C492.0,301.3 490.8,304.2 492.0,308.0 C493.2,311.8 497.0,319.0 499.0,323.0 C501.0,327.0 503.2,330.5 504.0,332.0" fill="none" stroke="#3d3a38" stroke-width="1.1" />
<path d="M762.0,288.0 C762.0,290.8 762.8,299.3 762.0,305.0 C761.2,310.7 758.8,317.2 757.0,322.0 C755.2,326.8 752.0,332.0 751.0,334.0" fill="none" stroke="#3d3a38" stroke-width="1.1" />
<path d="M504,332 L504,342" fill="none" stroke="#3d3a38" stroke-width="1.1" />
<path d="M751,334 L751,342" fill="none" stroke="#3d3a38" stroke-width="1.1" />
<path d="M510.0,200.0 C515.0,196.3 521.7,220.8 530.0,228.0 C538.3,235.2 548.3,239.3 560.0,243.0 C571.7,246.7 588.3,248.7 600.0,250.0 C611.7,251.3 617.3,251.3 630.0,251.0 C642.7,250.7 664.3,249.8 676.0,248.0 C687.7,246.2 689.3,243.8 700.0,240.0 C710.7,236.2 730.0,228.3 740.0,225.0 C750.0,221.7 754.7,218.8 760.0,220.0 C765.3,221.2 771.2,225.0 772.0,232.0 C772.8,239.0 766.7,252.3 765.0,262.0 C763.3,271.7 772.8,280.7 762.0,290.0 C751.2,299.3 722.5,311.7 700.0,318.0 C677.5,324.3 650.3,327.3 627.0,328.0 C603.7,328.7 582.5,326.7 560.0,322.0 C537.5,317.3 502.0,312.0 492.0,300.0 C482.0,288.0 497.0,266.7 500.0,250.0 C503.0,233.3 505.0,203.7 510.0,200.0 Z" fill="#fff" stroke="none"/>
<path d="M538.0,308.0 C542.3,309.8 555.0,316.0 564.0,319.0 C573.0,322.0 581.5,324.5 592.0,326.0 C602.5,327.5 615.7,327.8 627.0,328.0 C638.3,328.2 647.8,328.3 660.0,327.0 C672.2,325.7 686.7,323.5 700.0,320.0 C713.3,316.5 729.7,311.0 740.0,306.0 C750.3,301.0 758.3,292.7 762.0,290.0" fill="none" stroke="#3d3a38" stroke-width="1.1" />
<path d="M510.0,206.0 C513.3,209.7 521.7,221.8 530.0,228.0 C538.3,234.2 548.3,239.3 560.0,243.0 C571.7,246.7 588.3,248.7 600.0,250.0 C611.7,251.3 617.3,251.3 630.0,251.0 C642.7,250.7 668.3,248.5 676.0,248.0" fill="none" stroke="#3d3a38" stroke-width="1.1" />
<path d="M510,196 L510,206" fill="none" stroke="#3d3a38" stroke-width="1.1" />
<path d="M676.0,248.0 C680.0,246.3 691.8,240.5 700.0,238.0 C708.2,235.5 720.8,233.8 725.0,233.0" fill="none" stroke="#3d3a38" stroke-width="1.1" />
<path d="M744.0,212.0 C743.5,213.5 742.8,218.3 741.0,221.0 C739.2,223.7 735.7,226.0 733.0,228.0 C730.3,230.0 726.3,232.2 725.0,233.0" fill="none" stroke="#3d3a38" stroke-width="1.1" />
<path d="M731,229 L731,237" fill="none" stroke="#3d3a38" stroke-width="1.1" />
<path d="M735.0,244.0 C737.2,243.8 743.8,243.7 748.0,243.0 C752.2,242.3 756.5,241.8 760.0,240.0 C763.5,238.2 766.8,235.0 769.0,232.0 C771.2,229.0 772.3,223.7 773.0,222.0" fill="none" stroke="#3d3a38" stroke-width="1.1" />
<path d="M690.0,236.0 C687.0,238.3 677.8,245.0 672.0,250.0 C666.2,255.0 658.2,261.0 655.0,266.0 C651.8,271.0 652.5,275.0 653.0,280.0 C653.5,285.0 654.8,291.0 658.0,296.0 C661.2,301.0 666.3,306.2 672.0,310.0 C677.7,313.8 688.7,317.5 692.0,319.0" fill="none" stroke="#3d3a38" stroke-width="1.1" />
<path d="M690.0,236.0 C692.7,234.7 700.3,229.0 706.0,228.0 C711.7,227.0 718.3,228.3 724.0,230.0 C729.7,231.7 737.3,236.7 740.0,238.0" fill="none" stroke="#3d3a38" stroke-width="1.1" />
<ellipse cx="723.7" cy="280" rx="36" ry="43" fill="#fff" stroke="#3d3a38" stroke-width="1.1"/>
<ellipse cx="725.5" cy="280.0" rx="32.5" ry="39.5" fill="none" stroke="#3d3a38" stroke-width="0.9"/>
<path d="M709,254 L712,249 L730,249 L733,254 L733,323 L709,323 Z" fill="#fff" stroke="#3d3a38" stroke-width="1.1"/>
<path d="M709,254 L733,254" fill="none" stroke="#3d3a38" stroke-width="0.9" />
<path d="M712,254 L712,323" fill="none" stroke="#3d3a38" stroke-width="0.8" />
<path d="M724,254 L724,323" fill="none" stroke="#3d3a38" stroke-width="0.8" />
<path d="M728,254 L728,323" fill="none" stroke="#3d3a38" stroke-width="0.8" />
<path d="M729,249 L732,244 L749,244 L752,249 L752,317 L729,317 Z" fill="#fff" stroke="#3d3a38" stroke-width="1.1"/>
<path d="M729,249 L752,249" fill="none" stroke="#3d3a38" stroke-width="0.9" />
<path d="M732,249 L732,317" fill="none" stroke="#3d3a38" stroke-width="0.8" />
<path d="M743,249 L743,317" fill="none" stroke="#3d3a38" stroke-width="0.8" />
<path d="M747,249 L747,317" fill="none" stroke="#3d3a38" stroke-width="0.8" />
<path d="M505.0,225.0 C508.7,224.2 521.2,220.3 527.0,220.0 C532.8,219.7 534.5,219.2 540.0,223.0 C545.5,226.8 554.2,237.2 560.0,243.0 C565.8,248.8 571.3,253.0 575.0,258.0 C578.7,263.0 581.2,268.0 582.0,273.0 C582.8,278.0 582.5,283.7 580.0,288.0 C577.5,292.3 573.7,295.7 567.0,299.0 C560.3,302.3 550.0,305.2 540.0,308.0 C530.0,310.8 512.5,314.7 507.0,316.0 L492,300 L480,250 Z" fill="#fff" stroke="none"/>
<path d="M505.0,225.0 C508.7,224.2 521.2,220.3 527.0,220.0 C532.8,219.7 534.5,219.2 540.0,223.0 C545.5,226.8 554.2,237.2 560.0,243.0 C565.8,248.8 571.3,253.0 575.0,258.0 C578.7,263.0 581.2,268.0 582.0,273.0 C582.8,278.0 582.5,283.7 580.0,288.0 C577.5,292.3 573.7,295.7 567.0,299.0 C560.3,302.3 550.0,305.2 540.0,308.0 C530.0,310.8 512.5,314.7 507.0,316.0" fill="none" stroke="#3d3a38" stroke-width="1.1" />
<path d="M475.0,247.0 C477.0,245.0 482.0,238.7 487.0,235.0 C492.0,231.3 502.0,226.7 505.0,225.0" fill="none" stroke="#3d3a38" stroke-width="1.1" />
<path d="M508.4,227.2 L509.4,227.0 L510.3,227.0 L511.3,227.1 L512.2,227.3 L513.2,227.7 L514.1,228.2 L515.0,228.8 L515.9,229.5 L516.8,230.3 L517.7,231.3 L518.5,232.3 L519.3,233.5 L520.1,234.8 L520.9,236.2 L521.6,237.6 L522.3,239.2 L523.0,240.9 L523.6,242.6 L524.2,244.5 L524.8,246.4 L525.3,248.4 L525.8,250.4 L526.2,252.5 L526.6,254.7 L527.0,256.9 L527.3,259.2 L527.5,261.4 L527.7,263.8 L527.8,266.1 L527.9,268.5 L528.0,270.8 L528.0,273.2 L527.9,275.5 L527.8,277.9 L527.7,280.2 L527.5,282.6 L527.3,284.8 L527.0,287.1 L526.6,289.3 L526.2,291.5 L525.8,293.6 L525.3,295.6 L524.8,297.6 L524.2,299.5 L523.6,301.4 L523.0,303.1 L522.3,304.8 L521.6,306.4 L520.9,307.8 L520.1,309.2 L519.3,310.5 L518.5,311.7 L517.7,312.7 L516.8,313.7 L515.9,314.5 L515.0,315.2 L514.1,315.8 L513.2,316.3 L512.2,316.7 L511.3,316.9 L510.3,317.0 L509.4,317.0 L508.4,316.8" fill="none" stroke="#3d3a38" stroke-width="1.0" />
<path d="M508.1,227.2 L509.2,227.0 L510.4,227.0 L511.6,227.1 L512.7,227.3 L513.9,227.7 L515.0,228.2 L516.1,228.8 L517.2,229.5 L518.3,230.3 L519.4,231.3 L520.4,232.3 L521.4,233.5 L522.4,234.8 L523.3,236.2 L524.2,237.6 L525.1,239.2 L525.9,240.9 L526.7,242.6 L527.4,244.5 L528.1,246.4 L528.7,248.4 L529.3,250.4 L529.8,252.5 L530.3,254.7 L530.7,256.9 L531.1,259.2 L531.4,261.4 L531.6,263.8 L531.8,266.1 L531.9,268.5 L532.0,270.8 L532.0,273.2 L531.9,275.5 L531.8,277.9 L531.6,280.2 L531.4,282.6 L531.1,284.8 L530.7,287.1 L530.3,289.3 L529.8,291.5 L529.3,293.6 L528.7,295.6 L528.1,297.6 L527.4,299.5 L526.7,301.4 L525.9,303.1 L525.1,304.8 L524.2,306.4 L523.3,307.8 L522.4,309.2 L521.4,310.5 L520.4,311.7 L519.4,312.7 L518.3,313.7 L517.2,314.5 L516.1,315.2 L515.0,315.8 L513.9,316.3 L512.7,316.7 L511.6,316.9 L510.4,317.0 L509.2,317.0 L508.1,316.8" fill="none" stroke="#3d3a38" stroke-width="1.0" />
<path d="M507.7,227.2 L509.1,227.0 L510.5,227.0 L511.8,227.1 L513.2,227.3 L514.6,227.7 L515.9,228.2 L517.2,228.8 L518.5,229.5 L519.8,230.3 L521.1,231.3 L522.3,232.3 L523.5,233.5 L524.6,234.8 L525.7,236.2 L526.8,237.6 L527.8,239.2 L528.8,240.9 L529.7,242.6 L530.6,244.5 L531.4,246.4 L532.1,248.4 L532.8,250.4 L533.4,252.5 L534.0,254.7 L534.5,256.9 L534.9,259.2 L535.3,261.4 L535.6,263.8 L535.8,266.1 L535.9,268.5 L536.0,270.8 L536.0,273.2 L535.9,275.5 L535.8,277.9 L535.6,280.2 L535.3,282.6 L534.9,284.8 L534.5,287.1 L534.0,289.3 L533.4,291.5 L532.8,293.6 L532.1,295.6 L531.4,297.6 L530.6,299.5 L529.7,301.4 L528.8,303.1 L527.8,304.8 L526.8,306.4 L525.7,307.8 L524.6,309.2 L523.5,310.5 L522.3,311.7 L521.1,312.7 L519.8,313.7 L518.5,314.5 L517.2,315.2 L515.9,315.8 L514.6,316.3 L513.2,316.7 L511.8,316.9 L510.5,317.0 L509.1,317.0 L507.7,316.8" fill="none" stroke="#3d3a38" stroke-width="1.0" />
<path d="M492,246 L501,243 L519,266 L519,299 L511,303 L493,307 Z" fill="#fff" stroke="#3d3a38" stroke-width="1.1"/>
<path d="M501,243 L512,268 L512,303" fill="none" stroke="#3d3a38" stroke-width="1.1" />
<path d="M512,268 L519,266" fill="none" stroke="#3d3a38" stroke-width="1.1" />
<path d="M465,253 L492,245.5 L493,307 L473,310.5 Z" fill="#fff" stroke="none"/>
<path d="M465,253 L492,245.5" fill="none" stroke="#3d3a38" stroke-width="1.1" />
<path d="M473,310.5 L493,307.5" fill="none" stroke="#3d3a38" stroke-width="1.1" />
<path d="M480.5,248.2 L480.8,248.4 L481.0,248.7 L481.3,249.1 L481.5,249.5 L481.8,250.1 L482.0,250.7 L482.3,251.4 L482.5,252.2 L482.7,253.0 L482.9,253.9 L483.1,254.9 L483.3,256.0 L483.5,257.1 L483.7,258.3 L483.9,259.5 L484.0,260.8 L484.2,262.1 L484.3,263.5 L484.5,264.9 L484.6,266.4 L484.7,267.9 L484.8,269.4 L484.8,271.0 L484.9,272.6 L484.9,274.2 L485.0,275.8 L485.0,277.4 L485.0,279.0 L485.0,280.6 L485.0,282.2 L484.9,283.8 L484.9,285.4 L484.8,287.0 L484.8,288.6 L484.7,290.1 L484.6,291.6 L484.5,293.1 L484.3,294.5 L484.2,295.9 L484.0,297.2 L483.9,298.5 L483.7,299.7 L483.5,300.9 L483.3,302.0 L483.1,303.1 L482.9,304.1 L482.7,305.0 L482.5,305.8 L482.3,306.6 L482.0,307.3 L481.8,307.9 L481.5,308.5 L481.3,308.9 L481.0,309.3 L480.8,309.6 L480.5,309.8" fill="none" stroke="#3d3a38" stroke-width="0.9" />
<path d="M484.5,248.2 L484.8,248.4 L485.0,248.7 L485.3,249.1 L485.5,249.5 L485.8,250.1 L486.0,250.7 L486.3,251.4 L486.5,252.2 L486.7,253.0 L486.9,253.9 L487.1,254.9 L487.3,256.0 L487.5,257.1 L487.7,258.3 L487.9,259.5 L488.0,260.8 L488.2,262.1 L488.3,263.5 L488.5,264.9 L488.6,266.4 L488.7,267.9 L488.8,269.4 L488.8,271.0 L488.9,272.6 L488.9,274.2 L489.0,275.8 L489.0,277.4 L489.0,279.0 L489.0,280.6 L489.0,282.2 L488.9,283.8 L488.9,285.4 L488.8,287.0 L488.8,288.6 L488.7,290.1 L488.6,291.6 L488.5,293.1 L488.3,294.5 L488.2,295.9 L488.0,297.2 L487.9,298.5 L487.7,299.7 L487.5,300.9 L487.3,302.0 L487.1,303.1 L486.9,304.1 L486.7,305.0 L486.5,305.8 L486.3,306.6 L486.0,307.3 L485.8,307.9 L485.5,308.5 L485.3,308.9 L485.0,309.3 L484.8,309.6 L484.5,309.8" fill="none" stroke="#3d3a38" stroke-width="0.9" />
<path d="M488.5,248.2 L488.8,248.4 L489.0,248.7 L489.3,249.1 L489.5,249.5 L489.8,250.1 L490.0,250.7 L490.3,251.4 L490.5,252.2 L490.7,253.0 L490.9,253.9 L491.1,254.9 L491.3,256.0 L491.5,257.1 L491.7,258.3 L491.9,259.5 L492.0,260.8 L492.2,262.1 L492.3,263.5 L492.5,264.9 L492.6,266.4 L492.7,267.9 L492.8,269.4 L492.8,271.0 L492.9,272.6 L492.9,274.2 L493.0,275.8 L493.0,277.4 L493.0,279.0 L493.0,280.6 L493.0,282.2 L492.9,283.8 L492.9,285.4 L492.8,287.0 L492.8,288.6 L492.7,290.1 L492.6,291.6 L492.5,293.1 L492.3,294.5 L492.2,295.9 L492.0,297.2 L491.9,298.5 L491.7,299.7 L491.5,300.9 L491.3,302.0 L491.1,303.1 L490.9,304.1 L490.7,305.0 L490.5,305.8 L490.3,306.6 L490.0,307.3 L489.8,307.9 L489.5,308.5 L489.3,308.9 L489.0,309.3 L488.8,309.6 L488.5,309.8" fill="none" stroke="#3d3a38" stroke-width="0.9" />
<path d="M468.4,253.2 L468.6,253.4 L468.8,253.6 L469.0,254.0 L469.2,254.4 L469.4,254.9 L469.6,255.5 L469.8,256.2 L470.0,256.9 L470.2,257.7 L470.4,258.5 L470.5,259.5 L470.7,260.4 L470.8,261.5 L471.0,262.6 L471.1,263.7 L471.2,265.0 L471.4,266.2 L471.5,267.5 L471.6,268.8 L471.7,270.2 L471.7,271.6 L471.8,273.0 L471.9,274.5 L471.9,276.0 L472.0,277.5 L472.0,279.0 L472.0,280.5 L472.0,282.0 L472.0,283.5 L472.0,285.0 L472.0,286.5 L471.9,288.0 L471.9,289.5 L471.8,291.0 L471.7,292.4 L471.7,293.8 L471.6,295.2 L471.5,296.5 L471.4,297.8 L471.2,299.0 L471.1,300.3 L471.0,301.4 L470.8,302.5 L470.7,303.6 L470.5,304.5 L470.4,305.5 L470.2,306.3 L470.0,307.1 L469.8,307.8 L469.6,308.5 L469.4,309.1 L469.2,309.6 L469.0,310.0 L468.8,310.4 L468.6,310.6 L468.4,310.8" fill="none" stroke="#3d3a38" stroke-width="0.9" />
<path d="M447,266 L461,260 C466,275 468,298 473,310.5 L455,312 Z" fill="#fff" stroke="none"/>
<path d="M447,266 L461,260" fill="none" stroke="#3d3a38" stroke-width="1.1" />
<path d="M455,312 L473,310.5" fill="none" stroke="#3d3a38" stroke-width="1.1" />
<path d="M458.4,260.6 L458.7,260.8 L459.0,261.0 L459.2,261.3 L459.5,261.6 L459.7,262.1 L460.0,262.6 L460.2,263.1 L460.4,263.8 L460.7,264.5 L460.9,265.2 L461.1,266.0 L461.3,266.9 L461.5,267.8 L461.7,268.8 L461.9,269.8 L462.0,270.9 L462.2,272.0 L462.3,273.1 L462.4,274.3 L462.6,275.5 L462.7,276.8 L462.7,278.0 L462.8,279.3 L462.9,280.6 L462.9,282.0 L463.0,283.3 L463.0,284.6 L463.0,286.0 L463.0,287.4 L463.0,288.7 L462.9,290.0 L462.9,291.4 L462.8,292.7 L462.7,294.0 L462.7,295.2 L462.6,296.5 L462.4,297.7 L462.3,298.9 L462.2,300.0 L462.0,301.1 L461.9,302.2 L461.7,303.2 L461.5,304.2 L461.3,305.1 L461.1,306.0 L460.9,306.8 L460.7,307.5 L460.4,308.2 L460.2,308.9 L460.0,309.4 L459.7,309.9 L459.5,310.4 L459.2,310.7 L459.0,311.0 L458.7,311.2 L458.4,311.4" fill="none" stroke="#3d3a38" stroke-width="1.0" />
<path d="M462.3,260.1 L462.6,260.2 L462.8,260.5 L463.0,260.8 L463.2,261.1 L463.4,261.5 L463.6,262.0 L463.8,262.6 L464.0,263.2 L464.1,263.9 L464.3,264.6 L464.5,265.4 L464.6,266.3 L464.8,267.2 L464.9,268.1 L465.1,269.1 L465.2,270.2 L465.3,271.2 L465.5,272.4 L465.6,273.5 L465.6,274.7 L465.7,275.9 L465.8,277.2 L465.9,278.5 L465.9,279.7 L465.9,281.0 L466.0,282.4 L466.0,283.7 L466.0,285.0 L466.0,286.3 L466.0,287.6 L465.9,289.0 L465.9,290.3 L465.9,291.5 L465.8,292.8 L465.7,294.1 L465.6,295.3 L465.6,296.5 L465.5,297.6 L465.3,298.8 L465.2,299.8 L465.1,300.9 L464.9,301.9 L464.8,302.8 L464.6,303.7 L464.5,304.6 L464.3,305.4 L464.1,306.1 L464.0,306.8 L463.8,307.4 L463.6,308.0 L463.4,308.5 L463.2,308.9 L463.0,309.2 L462.8,309.5 L462.6,309.8 L462.3,309.9" fill="none" stroke="#3d3a38" stroke-width="0.8" />
<path d="M461,260 L465,253" fill="none" stroke="#3d3a38" stroke-width="0.9" />
<ellipse cx="448" cy="289" rx="13" ry="23" fill="#fff" stroke="#3d3a38" stroke-width="1.2"/>
<ellipse cx="449.0" cy="289.5" rx="11.0" ry="19.5" fill="none" stroke="#3d3a38" stroke-width="1.3"/>
<path d="M499.0,140.0 L499.2,137.3 L499.7,134.7 L500.6,132.0 L501.8,129.4 L503.4,126.8 L505.3,124.2 L507.6,121.7 L510.2,119.3 L513.1,116.8 L516.3,114.5 L519.8,112.2 L523.6,110.0 L527.7,107.9 L532.1,105.9 L536.8,103.9 L541.7,102.1 L546.8,100.4 L552.2,98.7 L557.7,97.2 L563.5,95.8 L569.4,94.6 L575.5,93.4 L581.8,92.4 L588.1,91.5 L594.6,90.7 L601.2,90.1 L607.8,89.6 L614.5,89.3 L621.2,89.1 L628.0,89.0 L634.8,89.1 L641.5,89.3 L648.2,89.6 L654.8,90.1 L661.4,90.7 L667.9,91.5 L674.2,92.4 L680.5,93.4 L686.6,94.6 L692.5,95.8 L698.3,97.2 L703.8,98.7 L709.2,100.4 L714.3,102.1 L719.2,103.9 L723.9,105.9 L728.3,107.9 L732.4,110.0 L736.2,112.2 L739.7,114.5 L742.9,116.8 L745.8,119.3 L748.4,121.7 L750.7,124.2 L752.6,126.8 L754.2,129.4 L755.4,132.0 L756.3,134.7 L756.8,137.3 L757.0,140.0 L757.0,188.0 L756.8,190.3 L756.3,192.6 L755.4,194.9 L754.2,197.1 L752.6,199.4 L750.7,201.6 L748.4,203.8 L745.8,205.9 L742.9,208.0 L739.7,210.0 L736.2,212.0 L732.4,213.9 L728.3,215.7 L723.9,217.4 L719.2,219.1 L714.3,220.7 L709.2,222.2 L703.8,223.6 L698.3,224.9 L692.5,226.1 L686.6,227.2 L680.5,228.2 L674.2,229.1 L667.9,229.8 L661.4,230.5 L654.8,231.0 L648.2,231.5 L641.5,231.8 L634.8,231.9 L628.0,232.0 L621.2,231.9 L614.5,231.8 L607.8,231.5 L601.2,231.0 L594.6,230.5 L588.1,229.8 L581.8,229.1 L575.5,228.2 L569.4,227.2 L563.5,226.1 L557.7,224.9 L552.2,223.6 L546.8,222.2 L541.7,220.7 L536.8,219.1 L532.1,217.4 L527.7,215.7 L523.6,213.9 L519.8,212.0 L516.3,210.0 L513.1,208.0 L510.2,205.9 L507.6,203.8 L505.3,201.6 L503.4,199.4 L501.8,197.1 L500.6,194.9 L499.7,192.6 L499.2,190.3 L499.0,188.0 Z" fill="#fff" stroke="none"/>
<path d="M499.0,140.0 L499.2,137.3 L499.7,134.7 L500.6,132.0 L501.8,129.4 L503.4,126.8 L505.3,124.2 L507.6,121.7 L510.2,119.3 L513.1,116.8 L516.3,114.5 L519.8,112.2 L523.6,110.0 L527.7,107.9 L532.1,105.9 L536.8,103.9 L541.7,102.1 L546.8,100.4 L552.2,98.7 L557.7,97.2 L563.5,95.8 L569.4,94.6 L575.5,93.4 L581.8,92.4 L588.1,91.5 L594.6,90.7 L601.2,90.1 L607.8,89.6 L614.5,89.3 L621.2,89.1 L628.0,89.0 L634.8,89.1 L641.5,89.3 L648.2,89.6 L654.8,90.1 L661.4,90.7 L667.9,91.5 L674.2,92.4 L680.5,93.4 L686.6,94.6 L692.5,95.8 L698.3,97.2 L703.8,98.7 L709.2,100.4 L714.3,102.1 L719.2,103.9 L723.9,105.9 L728.3,107.9 L732.4,110.0 L736.2,112.2 L739.7,114.5 L742.9,116.8 L745.8,119.3 L748.4,121.7 L750.7,124.2 L752.6,126.8 L754.2,129.4 L755.4,132.0 L756.3,134.7 L756.8,137.3 L757.0,140.0" fill="none" stroke="#231f20" stroke-width="2.0" />
<path d="M499,140 L499,186" fill="none" stroke="#3d3a38" stroke-width="1.1" />
<path d="M757,140 L757,188" fill="none" stroke="#3d3a38" stroke-width="1.1" />
<path d="M757.0,188.0 L756.8,190.3 L756.3,192.6 L755.4,194.9 L754.2,197.1 L752.6,199.4 L750.7,201.6 L748.4,203.8 L745.8,205.9 L742.9,208.0 L739.7,210.0 L736.2,212.0 L732.4,213.9 L728.3,215.7 L723.9,217.4 L719.2,219.1 L714.3,220.7 L709.2,222.2 L703.8,223.6 L698.3,224.9 L692.5,226.1 L686.6,227.2 L680.5,228.2 L674.2,229.1 L667.9,229.8 L661.4,230.5 L654.8,231.0 L648.2,231.5 L641.5,231.8 L634.8,231.9 L628.0,232.0 L621.2,231.9 L614.5,231.8 L607.8,231.5 L601.2,231.0 L594.6,230.5 L588.1,229.8 L581.8,229.1 L575.5,228.2 L569.4,227.2 L563.5,226.1 L557.7,224.9 L552.2,223.6 L546.8,222.2 L541.7,220.7 L536.8,219.1 L532.1,217.4 L527.7,215.7 L523.6,213.9 L519.8,212.0 L516.3,210.0 L513.1,208.0 L510.2,205.9 L507.6,203.8 L505.3,201.6 L503.4,199.4 L501.8,197.1 L500.6,194.9 L499.7,192.6 L499.2,190.3 L499.0,188.0" fill="none" stroke="#3d3a38" stroke-width="1.1" />
<path d="M751.8,193.6 L750.7,195.7 L749.2,197.7 L747.5,199.8 L745.4,201.8 L742.9,203.7 L740.1,205.7 L737.1,207.6 L733.7,209.4 L730.0,211.1 L726.0,212.8 L721.8,214.5 L717.2,216.0 L712.5,217.5 L707.5,218.9 L702.3,220.2 L696.8,221.4 L691.2,222.5 L685.4,223.5 L679.4,224.5 L673.3,225.3 L667.1,226.0 L660.7,226.6 L654.3,227.1 L647.8,227.5 L641.2,227.8 L634.6,227.9 L628.0,228.0 L621.4,227.9 L614.8,227.8 L608.2,227.5 L601.7,227.1 L595.3,226.6 L588.9,226.0 L582.7,225.3 L576.6,224.5 L570.6,223.5 L564.8,222.5 L559.2,221.4 L553.7,220.2 L548.5,218.9 L543.5,217.5 L538.8,216.0 L534.2,214.5 L530.0,212.8 L526.0,211.1 L522.3,209.4 L518.9,207.6 L515.9,205.7 L513.1,203.7 L510.6,201.8 L508.5,199.8 L506.8,197.7 L505.3,195.7 L504.2,193.6" fill="none" stroke="#3d3a38" stroke-width="0.8" />
<path d="M757.0,140.0 L756.8,142.7 L756.3,145.3 L755.4,148.0 L754.2,150.6 L752.6,153.2 L750.7,155.8 L748.4,158.3 L745.8,160.7 L742.9,163.2 L739.7,165.5 L736.2,167.8 L732.4,170.0 L728.3,172.1 L723.9,174.1 L719.2,176.1 L714.3,177.9 L709.2,179.6 L703.8,181.3 L698.3,182.8 L692.5,184.2 L686.6,185.4 L680.5,186.6 L674.2,187.6 L667.9,188.5 L661.4,189.3 L654.8,189.9 L648.2,190.4 L641.5,190.7 L634.8,190.9 L628.0,191.0 L621.2,190.9 L614.5,190.7 L607.8,190.4 L601.2,189.9 L594.6,189.3 L588.1,188.5 L581.8,187.6 L575.5,186.6 L569.4,185.4 L563.5,184.2 L557.7,182.8 L552.2,181.3 L546.8,179.6 L541.7,177.9 L536.8,176.1 L532.1,174.1 L527.7,172.1 L523.6,170.0 L519.8,167.8 L516.3,165.5 L513.1,163.2 L510.2,160.7 L507.6,158.3 L505.3,155.8 L503.4,153.2 L501.8,150.6 L500.6,148.0 L499.7,145.3 L499.2,142.7 L499.0,140.0" fill="none" stroke="#3d3a38" stroke-width="0.9" />
<path d="M738.0,130.0 L737.8,131.9 L737.4,133.8 L736.6,135.6 L735.6,137.5 L734.2,139.3 L732.6,141.1 L730.6,142.9 L728.4,144.6 L725.9,146.3 L723.1,148.0 L720.1,149.6 L716.8,151.2 L713.3,152.7 L709.5,154.1 L705.5,155.5 L701.3,156.8 L696.9,158.0 L692.2,159.1 L687.5,160.2 L682.5,161.2 L677.4,162.1 L672.1,162.9 L666.8,163.6 L661.3,164.2 L655.7,164.8 L650.1,165.2 L644.4,165.6 L638.6,165.8 L632.8,166.0 L627.0,166.0 L621.2,166.0 L615.4,165.8 L609.6,165.6 L603.9,165.2 L598.3,164.8 L592.7,164.2 L587.2,163.6 L581.9,162.9 L576.6,162.1 L571.5,161.2 L566.5,160.2 L561.8,159.1 L557.1,158.0 L552.7,156.8 L548.5,155.5 L544.5,154.1 L540.7,152.7 L537.2,151.2 L533.9,149.6 L530.9,148.0 L528.1,146.3 L525.6,144.6 L523.4,142.9 L521.4,141.1 L519.8,139.3 L518.4,137.5 L517.4,135.6 L516.6,133.8 L516.2,131.9 L516.0,130.0 L516.2,128.1 L516.6,126.2 L517.4,124.4 L518.4,122.5 L519.8,120.7 L521.4,118.9 L523.4,117.1 L525.6,115.4 L528.1,113.7 L530.9,112.0 L533.9,110.4 L537.2,108.8 L540.7,107.3 L544.5,105.9 L548.5,104.5 L552.7,103.2 L557.1,102.0 L561.8,100.9 L566.5,99.8 L571.5,98.8 L576.6,97.9 L581.9,97.1 L587.2,96.4 L592.7,95.8 L598.3,95.2 L603.9,94.8 L609.6,94.4 L615.4,94.2 L621.2,94.0 L627.0,94.0 L632.8,94.0 L638.6,94.2 L644.4,94.4 L650.1,94.8 L655.7,95.2 L661.3,95.8 L666.8,96.4 L672.1,97.1 L677.4,97.9 L682.5,98.8 L687.5,99.8 L692.2,100.9 L696.9,102.0 L701.3,103.2 L705.5,104.5 L709.5,105.9 L713.3,107.3 L716.8,108.8 L720.1,110.4 L723.1,112.0 L725.9,113.7 L728.4,115.4 L730.6,117.1 L732.6,118.9 L734.2,120.7 L735.6,122.5 L736.6,124.4 L737.4,126.2 L737.8,128.1 L738.0,130.0" fill="none" stroke="#3d3a38" stroke-width="1.1" />
<path d="M733.4,136.7 L732.2,138.4 L730.8,140.1 L729.1,141.8 L727.1,143.4 L724.8,145.0 L722.3,146.6 L719.4,148.1 L716.4,149.5 L713.1,150.9 L709.5,152.3 L705.7,153.6 L701.7,154.8 L697.5,156.0 L693.1,157.1 L688.5,158.1 L683.7,159.1 L678.8,160.0 L673.8,160.7 L668.6,161.5 L663.3,162.1 L657.9,162.6 L652.4,163.1 L646.8,163.4 L641.2,163.7 L635.5,163.9 L629.8,164.0 L624.2,164.0 L618.5,163.9 L612.8,163.7 L607.2,163.4 L601.6,163.1 L596.1,162.6 L590.7,162.1 L585.4,161.5 L580.2,160.7 L575.2,160.0 L570.3,159.1 L565.5,158.1 L560.9,157.1 L556.5,156.0 L552.3,154.8 L548.3,153.6 L544.5,152.3 L540.9,150.9 L537.6,149.5 L534.6,148.1 L531.7,146.6 L529.2,145.0 L526.9,143.4 L524.9,141.8 L523.2,140.1 L521.8,138.4 L520.6,136.7" fill="none" stroke="#3d3a38" stroke-width="0.8" />
<path d="M508,121 L528,170 L646,190 L749,158 L734,117" fill="none" stroke="#3d3a38" stroke-width="1.1" />
<path d="M528,170 L646,186 L749,158" fill="none" stroke="#231f20" stroke-width="2.0" />
<ellipse cx="516" cy="119" rx="7" ry="3.8" fill="#fff" stroke="#3d3a38" stroke-width="1"/>
<path d="M510,120 L522,120" fill="none" stroke="#3d3a38" stroke-width="0.6" />
<ellipse cx="534" cy="165" rx="7" ry="3.8" fill="#fff" stroke="#3d3a38" stroke-width="1"/>
<path d="M528,166 L540,166" fill="none" stroke="#3d3a38" stroke-width="0.6" />
<ellipse cx="646" cy="181" rx="7" ry="3.8" fill="#fff" stroke="#3d3a38" stroke-width="1"/>
<path d="M640,182 L652,182" fill="none" stroke="#3d3a38" stroke-width="0.6" />
<ellipse cx="737" cy="153" rx="7" ry="3.8" fill="#fff" stroke="#3d3a38" stroke-width="1"/>
<path d="M731,154 L743,154" fill="none" stroke="#3d3a38" stroke-width="0.6" />
<path d="M741,206 L744,198 L755,191 L762,192 L766,198 L765,208 L760,211 L744,211 Z" fill="#fff" stroke="#3d3a38" stroke-width="1"/>
<path d="M744,203 L765,203" fill="none" stroke="#3d3a38" stroke-width="0.8" />
<ellipse cx="757" cy="197" rx="4" ry="2.5" fill="none" stroke="#3d3a38" stroke-width="0.9"/>
<ellipse cx="628" cy="122" rx="58" ry="25" fill="#fff" stroke="#3d3a38" stroke-width="1.1"/>
<path d="M672.0,120.0 L671.9,121.0 L671.8,122.1 L671.5,123.1 L671.0,124.2 L670.5,125.2 L669.8,126.2 L669.1,127.2 L668.2,128.1 L667.2,129.1 L666.1,130.0 L664.9,130.9 L663.6,131.8 L662.2,132.6 L660.7,133.4 L659.1,134.1 L657.4,134.9 L655.7,135.5 L653.9,136.2 L652.0,136.8 L650.0,137.3 L648.0,137.8 L645.9,138.3 L643.8,138.7 L641.6,139.0 L639.4,139.3 L637.1,139.6 L634.9,139.8 L632.6,139.9 L630.3,140.0 L628.0,140.0 L625.7,140.0 L623.4,139.9 L621.1,139.8 L618.9,139.6 L616.6,139.3 L614.4,139.0 L612.2,138.7 L610.1,138.3 L608.0,137.8 L606.0,137.3 L604.0,136.8 L602.1,136.2 L600.3,135.5 L598.6,134.9 L596.9,134.1 L595.3,133.4 L593.8,132.6 L592.4,131.8 L591.1,130.9 L589.9,130.0 L588.8,129.1 L587.8,128.1 L586.9,127.2 L586.2,126.2 L585.5,125.2 L585.0,124.2 L584.5,123.1 L584.2,122.1 L584.1,121.0 L584.0,120.0" fill="none" stroke="#3d3a38" stroke-width="1.1" />
<path d="M624,145 L624,148 L628,148 L628,145" fill="none" stroke="#3d3a38" stroke-width="0.8" />
<path d="M576.0,101.0 L586.0,100.0 L588.0,104.0 L588.0,114.0 L576.0,115.0 Z" fill="#fff" stroke="#3d3a38" stroke-width="1"/>
<path d="M572.0,108.0 L576.0,108.0 L576.0,119.0 L572.0,119.0 Z" fill="#fff" stroke="#3d3a38" stroke-width="1"/>
<path d="M668.0,105.0 L678.0,104.0 L681.0,108.0 L681.0,117.0 L668.0,118.0 Z" fill="#fff" stroke="#3d3a38" stroke-width="1"/>
<path d="M663.0,126.0 L669.0,124.0 L672.0,126.0 L672.0,138.0 L663.0,139.0 Z" fill="#fff" stroke="#3d3a38" stroke-width="1"/>
<path d="M576,104 L588,104" fill="none" stroke="#3d3a38" stroke-width="0.7" />
<path d="M668,108 L681,108" fill="none" stroke="#3d3a38" stroke-width="0.7" />
<path d="M663,129 L672,127" fill="none" stroke="#3d3a38" stroke-width="0.7" />
<path d="M593,132 L597,107 C598,105 601,104 603,104 L650,107 C653,108 655,110 655,112 L658,132 C640,139 612,139 593,132 Z" fill="#fff" stroke="#3d3a38" stroke-width="1.1"/>
<path d="M607,110 L608,137" fill="none" stroke="#3d3a38" stroke-width="0.9" />
<path d="M647,111 L648,136" fill="none" stroke="#3d3a38" stroke-width="0.9" />
<path d="M600,108 L607,110 L647,111 L653,110" fill="none" stroke="#3d3a38" stroke-width="0.8" />
<path d="M610,111 C613,121 619,126 626,126 C633,126 638,120 641,111" fill="none" stroke="#3d3a38" stroke-width="0.9" />
<path d="M597,30 C601,36 603,50 603,62 C602,74 596,84 589,95 L588,101 L667,104 L666,95 C662,86 656,80 652,74 C646,62 641,44 636,30 Z" fill="#fff" stroke="none"/>
<path d="M597,30 C601,36 603,50 603,62 C602,74 596,84 589,95 L588,101" fill="none" stroke="#3d3a38" stroke-width="1.2" />
<path d="M667,104 L666,95 C662,86 656,80 652,74 C646,62 641,44 636,30" fill="none" stroke="#3d3a38" stroke-width="1.2" />
<path d="M609,32 C611,48 610,66 606,76 C603,84 599,90 596,97" fill="none" stroke="#3d3a38" stroke-width="0.9" />
<path d="M630,32 C634,46 639,64 644,76 C647,84 651,90 653,96" fill="none" stroke="#3d3a38" stroke-width="0.9" />
<path d="M607,75 C611,69 615,65 620,64 C627,63 634,66 640,71" fill="none" stroke="#3d3a38" stroke-width="0.8" />
<path d="M615,30 L632,31 C630,50 628,72 626,93 L624,93 C621,72 618,50 615,30 Z" fill="#fff" stroke="#3d3a38" stroke-width="0.9"/>
<path d="M620,31 C622,50 624,72 625,92" fill="none" stroke="#3d3a38" stroke-width="0.7" />
<path d="M598,30 L601,36 L608,38 L609,32" fill="none" stroke="#3d3a38" stroke-width="0.8" />
<path d="M636,30 L633,36 L628,38" fill="none" stroke="#3d3a38" stroke-width="0.8" />
<path d="M593,17 C593,11 597,8 603,8 L628,8 C634,9 638,12 639,18 L640,25 C640,28 638,30 635,30 L597,30 C594,30 593,28 593,26 Z" fill="#fff" stroke="#3d3a38" stroke-width="1.2"/>
<path d="M594,14 C605,13 625,14 636,17" fill="none" stroke="#3d3a38" stroke-width="0.8" />
<path d="M593,25 C606,27 625,27 640,26" fill="none" stroke="#3d3a38" stroke-width="0.9" />
<path d="M613,8 L612,30" fill="none" stroke="#3d3a38" stroke-width="0.9" />
<path d="M757.6,723.6 L750.4,728.4 L744,736.4 L736,784.4 L757.6,786 Z" fill="#fff" stroke="none"/>
<path d="M757.6,723.6 C756.4,724.4 752.7,726.3 750.4,728.4 C748.1,730.5 745.1,735.1 744.0,736.4" fill="none" stroke="#3d3a38" stroke-width="1.1" />
<path d="M744,736.4 L736,784.4" fill="none" stroke="#3d3a38" stroke-width="1.1" />
<path d="M757.6,731.6 C752,731.6 749.6,734 749.6,738 C749.6,742 752,744.4 757.6,744.4" fill="none" stroke="#3d3a38" stroke-width="0.9" />
<path d="M742.0,784.0 C736.7,783.8 731.8,786.8 728.0,789.0 C724.2,791.2 721.5,793.3 719.0,797.0 C716.5,800.7 715.2,806.2 713.0,811.0 C710.8,815.8 708.2,820.3 706.0,826.0 C703.8,831.7 701.5,837.7 700.0,845.0 C698.5,852.3 696.2,861.7 697.0,870.0 C697.8,878.3 701.8,887.7 705.0,895.0 C708.2,902.3 711.7,908.7 716.0,914.0 C720.3,919.3 723.7,922.4 731.0,927.0 C738.3,931.6 750.7,939.5 760.0,941.5 C769.3,943.5 779.8,942.6 787.0,939.0 C794.2,935.4 799.5,927.7 803.0,920.0 C806.5,912.3 803.0,904.2 808.0,893.0 C813.0,881.8 828.8,861.8 833.0,853.0 C837.2,844.2 834.2,846.7 833.0,840.0 C831.8,833.3 828.0,820.5 826.0,813.0 C824.0,805.5 832.0,798.8 821.0,795.0 C810.0,791.2 773.2,791.8 760.0,790.0 C746.8,788.2 747.3,784.2 742.0,784.0 Z" fill="#fff" stroke="none"/>
<path d="M742.0,784.5 C739.7,785.2 731.8,786.9 728.0,789.0 C724.2,791.1 721.2,793.4 719.0,797.0 C716.8,800.6 715.9,806.5 714.7,810.7 C713.5,814.9 712.5,820.1 712.0,822.0" fill="none" stroke="#3d3a38" stroke-width="1.1" />
<path d="M762.0,830.0 C758.3,827.8 747.0,819.2 740.0,817.0 C733.0,814.8 725.5,815.4 720.0,817.0 C714.5,818.6 709.8,822.9 706.7,826.7 C703.6,830.5 702.6,835.8 701.3,840.0 C700.0,844.2 699.4,850.0 699.0,852.0" fill="none" stroke="#3d3a38" stroke-width="1.1" />
<path d="M760.0,833.0 C757.0,831.2 748.0,823.8 742.0,822.0 C736.0,820.2 729.0,820.5 724.0,822.0 C719.0,823.5 715.0,827.0 712.0,831.0 C709.0,835.0 707.0,843.5 706.0,846.0" fill="none" stroke="#3d3a38" stroke-width="0.8" />
<path d="M703.0,893.0 C705.0,896.2 710.1,906.4 714.7,912.0 C719.3,917.6 723.2,921.8 730.7,926.7 C738.2,931.6 750.7,939.3 760.0,941.3 C769.3,943.3 779.6,942.2 786.7,938.7 C793.8,935.2 799.2,927.6 802.7,920.0 C806.2,912.4 807.1,897.8 808.0,893.3" fill="none" stroke="#3d3a38" stroke-width="1.2" />
<path d="M749.3,864.0 C752.0,866.7 762.2,872.9 765.3,880.0 C768.4,887.1 768.9,898.5 768.0,906.7 C767.1,914.9 764.7,925.1 760.0,929.3 C755.3,933.5 744.9,932.9 740.0,932.0 C735.1,931.1 733.7,927.3 730.7,924.0 C727.7,920.7 723.5,914.0 722.0,912.0" fill="none" stroke="#3d3a38" stroke-width="1.0" />
<path d="M712.0,907.0 C713.7,909.3 717.7,916.5 722.0,921.0 C726.3,925.5 735.3,931.8 738.0,934.0" fill="none" stroke="#3d3a38" stroke-width="0.8" />
<path d="M802.0,925.0 C804.2,926.2 810.7,929.2 815.0,932.0 C819.3,934.8 824.2,938.7 828.0,942.0 C831.8,945.3 836.3,950.3 838.0,952.0" fill="none" stroke="#3d3a38" stroke-width="1.0" />
<path d="M790.0,938.0 C792.5,939.3 799.2,942.7 805.0,946.0 C810.8,949.3 818.8,955.0 825.0,958.0 C831.2,961.0 839.2,963.0 842.0,964.0" fill="none" stroke="#3d3a38" stroke-width="0.9" />
<path d="M813,958 L822,950 L833,968 L825,972 Z" fill="none" stroke="#3d3a38" stroke-width="0.9" />
<path d="M815.0,935.0 C816.7,934.2 822.2,931.2 825.0,930.0 C827.8,928.8 830.8,928.3 832.0,928.0" fill="none" stroke="#3d3a38" stroke-width="0.9" />
<ellipse cx="827" cy="932" rx="3" ry="4" fill="none" stroke="#3d3a38" stroke-width="0.9"/>
<path d="M749.3,792.0 C738.2,793.8 752.5,800.0 754.7,805.3 C756.9,810.6 760.9,816.0 762.7,824.0 C764.5,832.0 764.0,844.0 765.3,853.3 C766.6,862.6 768.0,873.8 770.7,880.0 C773.4,886.2 777.5,888.0 781.3,890.7 C785.1,893.4 788.8,895.6 793.3,896.0 C797.8,896.4 801.3,900.1 808.0,893.0 C814.7,885.9 829.1,862.1 833.3,853.3 C837.5,844.5 834.4,846.7 833.3,840.0 C832.2,833.3 828.7,820.8 826.7,813.3 C824.7,805.8 834.2,798.2 821.3,794.7 C808.4,791.2 760.4,790.2 749.3,792.0 Z" fill="#fff" stroke="none"/>
<path d="M749.3,792.0 C750.2,794.2 752.5,800.0 754.7,805.3 C756.9,810.6 760.9,816.0 762.7,824.0 C764.5,832.0 764.0,844.0 765.3,853.3 C766.6,862.6 768.0,873.8 770.7,880.0 C773.4,886.2 777.5,888.0 781.3,890.7 C785.1,893.4 788.8,895.6 793.3,896.0 C797.8,896.4 805.5,893.5 808.0,893.0" fill="none" stroke="#3d3a38" stroke-width="1.1" />
<path d="M753.0,797.0 C754.0,799.2 756.8,805.2 759.0,810.0 C761.2,814.8 764.3,819.0 766.0,826.0 C767.7,833.0 767.7,843.7 769.0,852.0 C770.3,860.3 771.7,870.3 774.0,876.0 C776.3,881.7 781.5,884.3 783.0,886.0" fill="none" stroke="#3d3a38" stroke-width="0.8" />
<path d="M821.3,794.7 C822.2,797.8 824.7,805.8 826.7,813.3 C828.7,820.8 832.2,833.3 833.3,840.0 C834.4,846.7 833.3,851.1 833.3,853.3" fill="none" stroke="#3d3a38" stroke-width="1.0" />
<path d="M764.0,804.0 C765.8,808.0 771.2,820.7 775.0,828.0 C778.8,835.3 783.5,842.9 787.0,848.0 C790.5,853.1 793.5,860.0 796.0,858.7 C798.5,857.4 800.5,848.7 802.0,840.0 C803.5,831.3 804.8,812.2 805.3,806.7" fill="none" stroke="#3d3a38" stroke-width="0.9" />
<path d="M780,869.3 L833.3,852" fill="none" stroke="#3d3a38" stroke-width="1.0" />
<path d="M781.3,888 L836,874.7" fill="none" stroke="#3d3a38" stroke-width="1.0" />
<path d="M780,869.3 L781.3,888" fill="none" stroke="#3d3a38" stroke-width="0.9" />
<path d="M812,880 L814,935" fill="none" stroke="#3d3a38" stroke-width="0.8" />
<path d="M820,878 L822,925" fill="none" stroke="#3d3a38" stroke-width="0.8" />
<path d="M748,787.6 L755.2,798.8 L780,805.2 L809.6,803.6 L822.4,793.2 L820.8,786 L818.4,786 C812,792 800,796 788,796 C776,796 764,792 757.6,786 Z" fill="#fff" stroke="#3d3a38" stroke-width="1.2"/>
<path d="M750,791 L757,801 L780,807.5 L810,806 L822,796" fill="none" stroke="#3d3a38" stroke-width="0.9" />
<path d="M812,801 L821,793" fill="none" stroke="#231f20" stroke-width="2.2" />
<path d="M724,841 L742,838 C748,840 752,846 753,853 L753,893 C752,898 749,901 746,902 L736,906 Z" fill="#fff" stroke="#3d3a38" stroke-width="1.1"/>
<path d="M744.0,870.0 C745.0,870.3 748.8,868.7 750.0,872.0 C751.2,875.3 750.8,887.0 751.0,890.0" fill="none" stroke="#3d3a38" stroke-width="0.9" />
<path d="M721,842.5 L737,840.5 L741,846 L745,866 L746,888 L741,903 L737,909.6 L722,911 Z" fill="#fff" stroke="#3d3a38" stroke-width="1.1"/>
<path d="M737,840.5 L737,909" fill="none" stroke="#3d3a38" stroke-width="0.9" />
<path d="M740,866 L745,868 L746,886 L741,888 Z" fill="#231f20"/>
<path d="M636.8,876.0 C638.0,875.5 640.1,874.6 644.3,873.2 C648.5,871.8 656.7,869.8 662.0,867.6 C667.3,865.4 669.0,862.9 676.0,860.1 C683.0,857.3 696.2,853.6 704.0,850.8 C711.8,848.0 719.6,844.5 722.7,843.3 L736.7,909.6 L736.7,909.6 C732.8,909.9 720.4,910.7 713.4,911.5 C706.4,912.3 701.7,912.9 694.7,914.3 C687.7,915.7 679.5,918.5 671.4,920.0 C663.3,921.5 650.2,923.0 646.0,923.6 Z" fill="#fff" stroke="none"/>
<path d="M636.8,876.0 C638.0,875.5 640.1,874.6 644.3,873.2 C648.5,871.8 656.7,869.8 662.0,867.6 C667.3,865.4 669.0,862.9 676.0,860.1 C683.0,857.3 696.2,853.6 704.0,850.8 C711.8,848.0 719.6,844.5 722.7,843.3" fill="none" stroke="#3d3a38" stroke-width="1.2" />
<path d="M646.0,923.6 C650.2,923.0 663.3,921.5 671.4,920.0 C679.5,918.5 687.7,915.7 694.7,914.3 C701.7,912.9 706.4,912.3 713.4,911.5 C720.4,910.7 732.8,909.9 736.7,909.6" fill="none" stroke="#3d3a38" stroke-width="1.2" />
<path d="M652.0,870.8 C661.3,876.9 667.3,915.8 658.0,921.9" fill="none" stroke="#3d3a38" stroke-width="0.9" />
<path d="M657.0,869.2 C666.3,875.4 672.3,914.9 663.0,921.2" fill="none" stroke="#3d3a38" stroke-width="0.9" />
<path d="M663.0,867.1 C672.3,873.5 678.3,913.9 669.0,920.3" fill="none" stroke="#3d3a38" stroke-width="0.9" />
<path d="M668.0,864.4 C677.3,871.0 683.3,912.8 674.0,919.4" fill="none" stroke="#3d3a38" stroke-width="0.9" />
<path d="M671.0,862.8 C680.3,869.5 686.3,911.9 677.0,918.6" fill="none" stroke="#3d3a38" stroke-width="0.9" />
<path d="M674.0,861.2 C683.3,868.0 689.3,911.1 680.0,917.9" fill="none" stroke="#3d3a38" stroke-width="0.9" />
<path d="M677.0,859.8 C686.3,866.7 692.3,910.3 683.0,917.2" fill="none" stroke="#3d3a38" stroke-width="0.9" />
<path d="M680.0,858.8 C689.3,865.7 695.3,909.5 686.0,916.4" fill="none" stroke="#3d3a38" stroke-width="0.9" />
<path d="M683.0,857.8 C692.3,864.7 698.3,908.7 689.0,915.7" fill="none" stroke="#3d3a38" stroke-width="0.9" />
<path d="M686.0,856.8 C695.3,863.8 701.3,908.0 692.0,915.0" fill="none" stroke="#3d3a38" stroke-width="0.9" />
<path d="M689.0,855.8 C698.3,862.8 704.3,907.2 695.0,914.3" fill="none" stroke="#3d3a38" stroke-width="0.9" />
<path d="M692.0,854.8 C701.3,861.9 707.3,906.7 698.0,913.8" fill="none" stroke="#3d3a38" stroke-width="0.9" />
<path d="M695.0,853.8 C704.3,860.9 710.3,906.2 701.0,913.4" fill="none" stroke="#3d3a38" stroke-width="0.9" />
<path d="M699.0,852.5 C708.3,859.7 714.3,905.5 705.0,912.8" fill="none" stroke="#3d3a38" stroke-width="0.9" />
<path d="M704.0,850.8 C713.3,858.1 719.3,904.7 710.0,912.0" fill="none" stroke="#3d3a38" stroke-width="0.9" />
<path d="M709.0,848.8 C718.3,856.3 724.3,903.9 715.0,911.4" fill="none" stroke="#3d3a38" stroke-width="0.9" />
<path d="M714.0,846.8 C723.3,854.5 729.3,903.3 720.0,911.0" fill="none" stroke="#3d3a38" stroke-width="0.9" />
<path d="M719.0,844.8 C728.3,852.7 734.3,902.7 725.0,910.6" fill="none" stroke="#3d3a38" stroke-width="0.9" />
<path d="M724.0,843.3 C733.3,851.3 739.3,902.1 730.0,910.1" fill="none" stroke="#3d3a38" stroke-width="0.9" />
<ellipse cx="647" cy="899.3" rx="16.8" ry="24.3" fill="#fff" stroke="#3d3a38" stroke-width="1.4"/>
<ellipse cx="647.0" cy="899.6" rx="14.0" ry="21.2" fill="none" stroke="#3d3a38" stroke-width="1.1"/>
<path d="M414.6,703 C414.6,701 416,700 418,700 L425,699 C427,699 428,700 428.5,702 L444.5,764 C445,766 444,767 442,767.5 L435,768 C433.5,768 432.5,767.5 432.3,766.5 Z" fill="#fff" stroke="#3d3a38" stroke-width="1.1"/>
<path d="M419,700.5 L436.5,767.5" fill="none" stroke="#3d3a38" stroke-width="0.9" />
<path d="M422,700 L439.5,767" fill="none" stroke="#3d3a38" stroke-width="0.8" />
<path d="M397.8,713.3 L414.6,708.7 L428.6,762.8 L411.8,766.6 Z" fill="#fff" stroke="#3d3a38" stroke-width="1.1"/>
<path d="M403.4,738.6 L421.1,734.8" fill="none" stroke="#3d3a38" stroke-width="1.0" />
<path d="M412,766.5 L428.5,763" fill="none" stroke="#231f20" stroke-width="1.8" />
<path d="M358.6,731 L397.8,720 L409,762 L370.7,773 Z" fill="#fff" stroke="none"/>
<path d="M358.6,731 L397.8,720" fill="none" stroke="#3d3a38" stroke-width="1.1" />
<path d="M370.7,773 L409,762" fill="none" stroke="#3d3a38" stroke-width="1.1" />
<path d="M351,723 C351,721 353,720.5 355,720.8 C357,721 358,722 358.5,724 L372,779 C372.5,782 371,783.5 369,783.5 C367,783.5 366,782.5 365.5,781 Z" fill="#fff" stroke="#3d3a38" stroke-width="1.1"/>
<path d="M354,721.5 L368.5,782" fill="none" stroke="#3d3a38" stroke-width="0.8" />
<path d="M333,730 L350,725.5 L356.7,750.7 L366,779.6 L347.3,783.4 L339.9,755.4 Z" fill="#fff" stroke="#3d3a38" stroke-width="1.1"/>
<path d="M339.9,755.4 L356.7,750.7" fill="none" stroke="#3d3a38" stroke-width="1.0" />
<path d="M348,783 L365.5,779.5" fill="none" stroke="#231f20" stroke-width="1.8" />
<path d="M333,730 L324,732.5 C321,733.5 320,736 320.5,739 L322,748 L332.5,782 C334,786 337,788 340,787.5 L347.3,783.4 C340,770 334,748 333,730 Z" fill="#fff" stroke="#3d3a38" stroke-width="1.1"/>
<path d="M325,733.5 C323.5,737 324,742 325,747 L335.5,783.5" fill="none" stroke="#3d3a38" stroke-width="0.8" />
<path d="M995,865 C1020,861 1050,857 1080,853 L1082,866 C1050,869 1020,873 996,876 Z" fill="#fff" stroke="none"/>
<path d="M995.0,865.0 C1002.5,864.0 1025.8,861.0 1040.0,859.0 C1054.2,857.0 1073.3,854.0 1080.0,853.0" fill="none" stroke="#3d3a38" stroke-width="1.1" />
<path d="M996.0,876.0 C1003.3,875.2 1025.7,872.7 1040.0,871.0 C1054.3,869.3 1075.0,866.8 1082.0,866.0" fill="none" stroke="#3d3a38" stroke-width="1.1" />
<path d="M1173,835 L1213,828 C1216,828 1217,831 1214,832 L1173,843 Z" fill="#fff" stroke="#3d3a38" stroke-width="1"/>
<ellipse cx="1195" cy="819" rx="3" ry="4" fill="#fff" stroke="#3d3a38" stroke-width="0.9"/>
<path d="M1152,808 L1173,801.5 C1186,802 1196,814 1195,830 C1194,845 1185,858 1172,863 L1152,870 Z" fill="#fff" stroke="#3d3a38" stroke-width="1.1"/>
<path d="M1173,801.5 C1168,808 1164,840 1172,863" fill="none" stroke="#3d3a38" stroke-width="0.8" />
<path d="M1174,838 L1193,832" fill="none" stroke="#3d3a38" stroke-width="0.8" />
<path d="M1174,846 L1192,842" fill="none" stroke="#3d3a38" stroke-width="0.8" />
<path d="M1173,835 L1213,828 C1216,828 1217,831 1214,832 L1173,843 Z" fill="#fff" stroke="#3d3a38" stroke-width="1"/>
<ellipse cx="1149" cy="839.5" rx="21.5" ry="34" fill="#fff" stroke="#3d3a38" stroke-width="1.1"/>
<path d="M1151.0,807.5 L1152.0,807.5 L1153.0,807.7 L1154.0,807.9 L1155.0,808.2 L1155.9,808.6 L1156.9,809.1 L1157.8,809.6 L1158.7,810.3 L1159.6,811.0 L1160.5,811.8 L1161.3,812.7 L1162.2,813.6 L1163.0,814.6 L1163.7,815.7 L1164.4,816.9 L1165.1,818.1 L1165.8,819.4 L1166.4,820.7 L1166.9,822.1 L1167.5,823.5 L1167.9,825.0 L1168.4,826.5 L1168.7,828.0 L1169.1,829.6 L1169.4,831.2 L1169.6,832.8 L1169.8,834.5 L1169.9,836.2 L1170.0,837.8 L1170.0,839.5 L1170.0,841.2 L1169.9,842.8 L1169.8,844.5 L1169.6,846.2 L1169.4,847.8 L1169.1,849.4 L1168.7,851.0 L1168.4,852.5 L1167.9,854.0 L1167.5,855.5 L1166.9,856.9 L1166.4,858.3 L1165.8,859.6 L1165.1,860.9 L1164.4,862.1 L1163.7,863.3 L1163.0,864.4 L1162.2,865.4 L1161.3,866.3 L1160.5,867.2 L1159.6,868.0 L1158.7,868.7 L1157.8,869.4 L1156.9,869.9 L1155.9,870.4 L1155.0,870.8 L1154.0,871.1 L1153.0,871.3 L1152.0,871.5 L1151.0,871.5" fill="none" stroke="#3d3a38" stroke-width="0.8" />
<ellipse cx="1140" cy="842" rx="12.5" ry="20.5" fill="#fff" stroke="#3d3a38" stroke-width="1.1"/>
<ellipse cx="1118" cy="848.5" rx="15.5" ry="26" fill="#fff" stroke="#3d3a38" stroke-width="1.1"/>
<path d="M1120.0,824.5 L1120.7,824.5 L1121.5,824.6 L1122.2,824.8 L1122.9,825.0 L1123.6,825.3 L1124.3,825.7 L1125.0,826.1 L1125.7,826.6 L1126.4,827.1 L1127.0,827.7 L1127.6,828.4 L1128.2,829.1 L1128.8,829.8 L1129.4,830.7 L1129.9,831.5 L1130.4,832.4 L1130.9,833.4 L1131.3,834.4 L1131.7,835.4 L1132.1,836.5 L1132.5,837.6 L1132.8,838.7 L1133.1,839.9 L1133.3,841.1 L1133.5,842.3 L1133.7,843.5 L1133.8,844.7 L1133.9,846.0 L1134.0,847.2 L1134.0,848.5 L1134.0,849.8 L1133.9,851.0 L1133.8,852.3 L1133.7,853.5 L1133.5,854.7 L1133.3,855.9 L1133.1,857.1 L1132.8,858.3 L1132.5,859.4 L1132.1,860.5 L1131.7,861.6 L1131.3,862.6 L1130.9,863.6 L1130.4,864.6 L1129.9,865.5 L1129.4,866.3 L1128.8,867.2 L1128.2,867.9 L1127.6,868.6 L1127.0,869.3 L1126.4,869.9 L1125.7,870.4 L1125.0,870.9 L1124.3,871.3 L1123.6,871.7 L1122.9,872.0 L1122.2,872.2 L1121.5,872.4 L1120.7,872.5 L1120.0,872.5" fill="none" stroke="#3d3a38" stroke-width="0.8" />
<path d="M1081,844 L1110,837 L1115,865 L1086,872.5 Z" fill="#fff" stroke="none"/>
<path d="M1081,844 L1110,837" fill="none" stroke="#3d3a38" stroke-width="1.1" />
<path d="M1086,872.5 L1115,865" fill="none" stroke="#3d3a38" stroke-width="1.1" />
<path d="M1113.0,837.0 L1113.3,837.0 L1113.5,837.1 L1113.8,837.2 L1114.0,837.3 L1114.3,837.5 L1114.5,837.7 L1114.8,837.9 L1115.0,838.2 L1115.3,838.5 L1115.5,838.9 L1115.7,839.3 L1115.9,839.7 L1116.1,840.1 L1116.3,840.6 L1116.5,841.1 L1116.7,841.6 L1116.9,842.2 L1117.0,842.8 L1117.2,843.4 L1117.3,844.0 L1117.5,844.6 L1117.6,845.3 L1117.7,846.0 L1117.8,846.7 L1117.8,847.4 L1117.9,848.1 L1117.9,848.8 L1118.0,849.5 L1118.0,850.3 L1118.0,851.0 L1118.0,851.7 L1118.0,852.5 L1117.9,853.2 L1117.9,853.9 L1117.8,854.6 L1117.8,855.3 L1117.7,856.0 L1117.6,856.7 L1117.5,857.4 L1117.3,858.0 L1117.2,858.6 L1117.0,859.2 L1116.9,859.8 L1116.7,860.4 L1116.5,860.9 L1116.3,861.4 L1116.1,861.9 L1115.9,862.3 L1115.7,862.7 L1115.5,863.1 L1115.3,863.5 L1115.0,863.8 L1114.8,864.1 L1114.5,864.3 L1114.3,864.5 L1114.0,864.7 L1113.8,864.8 L1113.5,864.9 L1113.3,865.0 L1113.0,865.0" fill="none" stroke="#3d3a38" stroke-width="0.9" />
<ellipse cx="1081" cy="858.3" rx="6" ry="14.2" fill="#fff" stroke="#3d3a38" stroke-width="1.1"/>
<rect x="697.0" y="85.0" width="38.0" height="41.0" rx="12.5" ry="12.5" fill="#1e1d1b"/>
<path d="M713.8,93.2 L718.5,93.2 L718.5,117.9 L713.8,117.9 L713.8,100.4 C712.3,101.8 710.1,102.8 708.9,103.1 L708.9,98.5 C711.4,97.6 713.3,95.7 713.8,93.2 Z" fill="#fff"/>
<rect x="913.0" y="717.0" width="39.0" height="41.0" rx="12.5" ry="12.5" fill="#1e1d1b"/>
<text x="0" y="0" transform="translate(931.0,750.5) scale(0.74,1)" text-anchor="middle" font-weight="bold" font-size="36" style="fill:#fff">2</text>
<rect x="600.0" y="330.0" width="38.5" height="41.0" rx="12.5" ry="12.5" fill="#1e1d1b"/>
<text x="0" y="0" transform="translate(617.8,363.5) scale(0.74,1)" text-anchor="middle" font-weight="bold" font-size="36" style="fill:#fff">3</text>
<rect x="722.5" y="438.5" width="38.5" height="41.5" rx="12.5" ry="12.5" fill="#1e1d1b"/>
<text x="0" y="0" transform="translate(740.2,472.2) scale(0.74,1)" text-anchor="middle" font-weight="bold" font-size="36" style="fill:#fff">4</text>
<rect x="936.0" y="385.6" width="36.4" height="39.4" rx="12.5" ry="12.5" fill="#1e1d1b"/>
<text x="0" y="0" transform="translate(952.7,418.3) scale(0.74,1)" text-anchor="middle" font-weight="bold" font-size="36" style="fill:#fff">6</text>
<rect x="935.5" y="938.7" width="37.0" height="40.3" rx="12.5" ry="12.5" fill="#1e1d1b"/>
<text x="0" y="0" transform="translate(952.5,971.8) scale(0.74,1)" text-anchor="middle" font-weight="bold" font-size="36" style="fill:#fff">7</text>
<rect x="425.0" y="198.0" width="38.0" height="40.0" rx="12.5" ry="12.5" fill="#1e1d1b"/>
<text x="0" y="0" transform="translate(442.5,231.0) scale(0.74,1)" text-anchor="middle" font-weight="bold" font-size="36" style="fill:#fff">8</text>
<path d="M438.6,1002.6 L639.3,938.5" fill="none" stroke="#231f20" stroke-width="5.2" stroke-linecap="butt"/>
<path d="M666.0,930.0 L638.9,950.2 L641.2,937.9 L632.2,929.3 Z" fill="#231f20"/>
<path d="M564.0,1035.0 L690.8,995.9" fill="none" stroke="#231f20" stroke-width="5.2" stroke-linecap="butt"/>
<path d="M717.6,987.6 L690.3,1007.5 L692.8,995.3 L683.8,986.5 Z" fill="#231f20"/>
<text x="312.3" y="1037.4" font-size="25" textLength="232.5" lengthAdjust="spacingAndGlyphs">Pumpe rückwärts in den</text>
<text x="312.3" y="1070.4" font-size="25" textLength="204.3" lengthAdjust="spacingAndGlyphs">Schlitten einschieben</text>
<text x="317.2" y="1171.0" font-size="31.5" font-weight="bold" textLength="189.4" lengthAdjust="spacingAndGlyphs">10. ERSATZTEILE</text>
<text x="425.4" y="1237.6" font-size="25" textLength="120.7" lengthAdjust="spacingAndGlyphs">502010451A</text>
<text x="642.8" y="1237.6" font-size="25" textLength="309.6" lengthAdjust="spacingAndGlyphs">4-Wege-Ventil mit Dichtungsring</text>
<rect x="317" y="1216.1" width="19.8" height="21.3" rx="7" ry="7" fill="#1e1d1b"/>
<path d="M326.5,1220.0 L329.3,1220.0 L329.3,1233.5 L326.5,1233.5 L326.5,1223.9 C325.7,1224.7 324.2,1225.3 323.5,1225.4 L323.5,1222.9 C324.9,1222.4 326.2,1221.3 326.5,1220.0 Z" fill="#fff"/>
<text x="425.4" y="1270.8" font-size="25" textLength="123.3" lengthAdjust="spacingAndGlyphs">502010450B</text>
<text x="642.8" y="1270.8" font-size="25" textLength="255.2" lengthAdjust="spacingAndGlyphs">Pumpe für Poolfilteranlage</text>
<rect x="317" y="1249.3" width="19.8" height="21.3" rx="7" ry="7" fill="#1e1d1b"/>
<text x="0" y="0" transform="translate(326.6,1267.3) scale(0.76,1)" text-anchor="middle" font-weight="bold" font-size="20" style="fill:#fff">2</text>
<text x="425.4" y="1304.0" font-size="25" textLength="124.3" lengthAdjust="spacingAndGlyphs">502010450C</text>
<text x="642.8" y="1304.0" font-size="25" textLength="360.4" lengthAdjust="spacingAndGlyphs">Spannring (2teilig) mit Verschraubung</text>
<rect x="317" y="1282.5" width="19.8" height="21.3" rx="7" ry="7" fill="#1e1d1b"/>
<text x="0" y="0" transform="translate(326.6,1300.5) scale(0.76,1)" text-anchor="middle" font-weight="bold" font-size="20" style="fill:#fff">3</text>
<text x="425.4" y="1337.2" font-size="25" textLength="124.3" lengthAdjust="spacingAndGlyphs">502010450D</text>
<text x="642.8" y="1337.2" font-size="25" textLength="111.2" lengthAdjust="spacingAndGlyphs">Filterkessel</text>
<rect x="317" y="1315.7" width="19.8" height="21.3" rx="7" ry="7" fill="#1e1d1b"/>
<text x="0" y="0" transform="translate(326.6,1333.7) scale(0.76,1)" text-anchor="middle" font-weight="bold" font-size="20" style="fill:#fff">4</text>
<text x="425.4" y="1370.4" font-size="25" textLength="120.1" lengthAdjust="spacingAndGlyphs">502010451E</text>
<text x="642.8" y="1370.4" font-size="25" textLength="181.6" lengthAdjust="spacingAndGlyphs">Innenrohr komplett</text>
<rect x="317" y="1348.9" width="19.8" height="21.3" rx="7" ry="7" fill="#1e1d1b"/>
<text x="0" y="0" transform="translate(326.6,1366.9) scale(0.76,1)" text-anchor="middle" font-weight="bold" font-size="20" style="fill:#fff">5</text>
<text x="425.4" y="1403.6" font-size="25" textLength="121.8" lengthAdjust="spacingAndGlyphs">502010450F</text>
<text x="642.8" y="1403.6" font-size="25" textLength="551.2" lengthAdjust="spacingAndGlyphs">flexibler Verbindungsschlauch zwischen Pumpe und Filter</text>
<rect x="317" y="1382.1" width="19.8" height="21.3" rx="7" ry="7" fill="#1e1d1b"/>
<text x="0" y="0" transform="translate(326.6,1400.1) scale(0.76,1)" text-anchor="middle" font-weight="bold" font-size="20" style="fill:#fff">6</text>
<text x="425.4" y="1436.8" font-size="25" textLength="125.4" lengthAdjust="spacingAndGlyphs">502010450G</text>
<text x="642.8" y="1436.8" font-size="25" textLength="102.4" lengthAdjust="spacingAndGlyphs">Filterplatte</text>
<rect x="317" y="1415.3" width="19.8" height="21.3" rx="7" ry="7" fill="#1e1d1b"/>
<text x="0" y="0" transform="translate(326.6,1433.3) scale(0.76,1)" text-anchor="middle" font-weight="bold" font-size="20" style="fill:#fff">7</text>
<text x="425.4" y="1470.0" font-size="25" textLength="121.1" lengthAdjust="spacingAndGlyphs">502010451H</text>
<text x="642.8" y="1470.0" font-size="25" textLength="133.6" lengthAdjust="spacingAndGlyphs">Druckanzeige</text>
<rect x="317" y="1448.5" width="19.8" height="21.3" rx="7" ry="7" fill="#1e1d1b"/>
<text x="0" y="0" transform="translate(326.6,1466.5) scale(0.76,1)" text-anchor="middle" font-weight="bold" font-size="20" style="fill:#fff">8</text>
</g>
</svg>
</body></html>
